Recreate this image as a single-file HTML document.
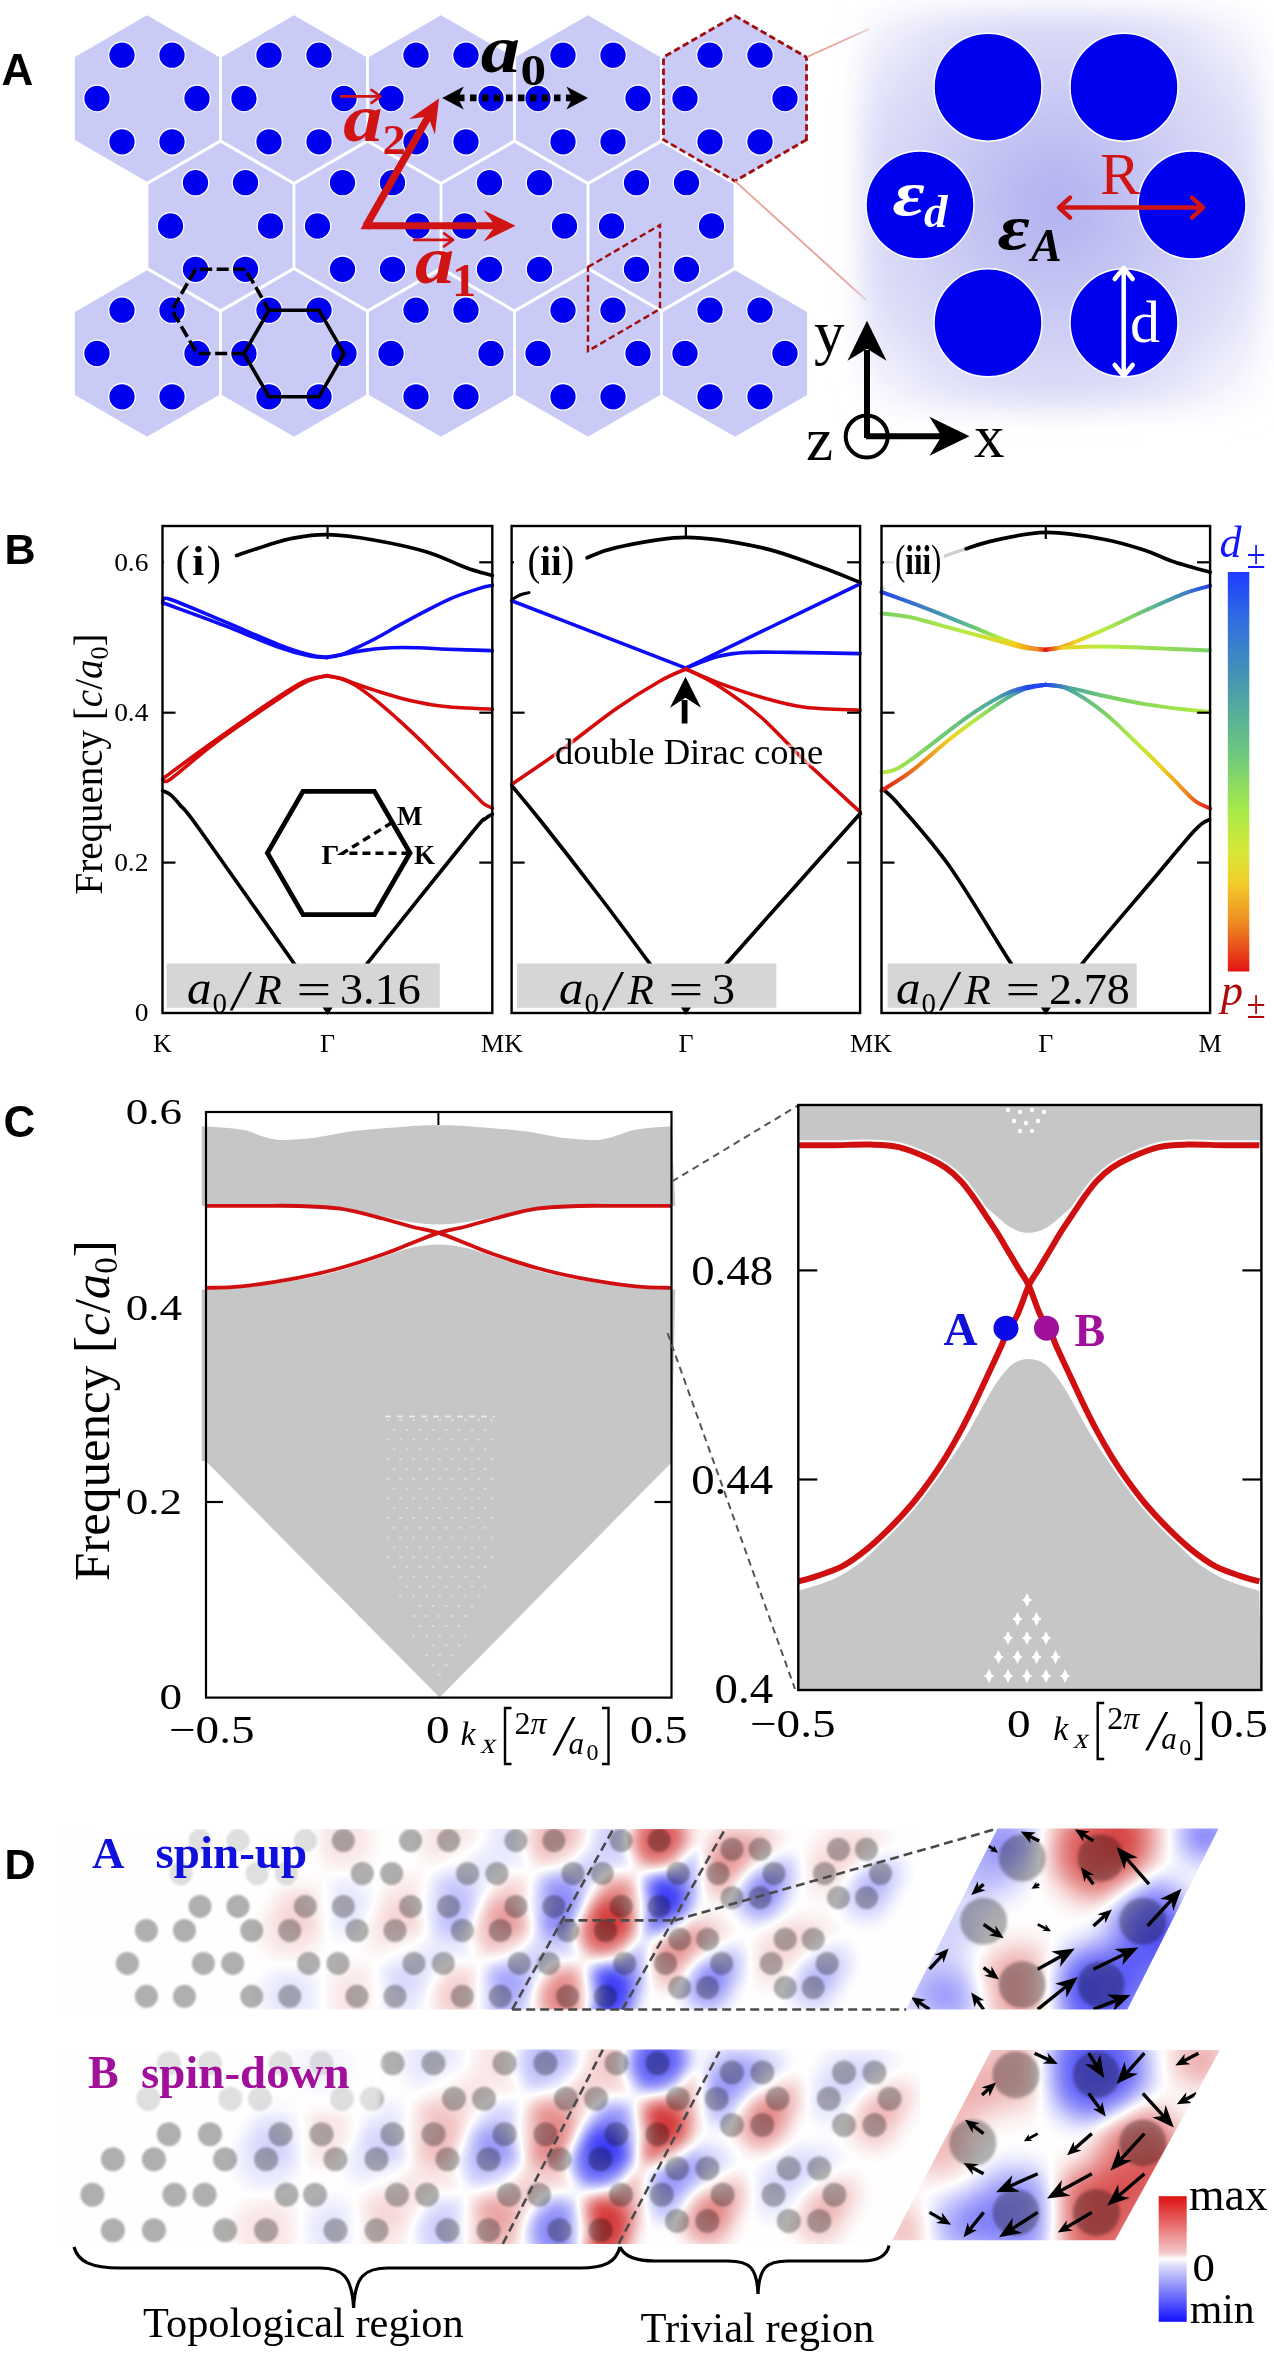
<!DOCTYPE html>
<html><head><meta charset="utf-8"><title>Figure</title>
<style>html,body{margin:0;padding:0;background:#fff;width:1274px;height:2356px;overflow:hidden;}svg{display:block;}</style></head>
<body><svg width="1274" height="2356" viewBox="0 0 1274 2356">
<defs><radialGradient id="ucg" cx="1056" cy="205" r="270" gradientUnits="userSpaceOnUse"><stop offset="0" stop-color="#b0b0f0"/><stop offset="0.4" stop-color="#cacaf5"/><stop offset="0.72" stop-color="#dedef8"/><stop offset="1" stop-color="#fbfbff"/></radialGradient>
<filter id="blur12" x="-20%" y="-20%" width="140%" height="140%"><feGaussianBlur stdDeviation="13"/></filter>
<linearGradient id="u1" gradientUnits="userSpaceOnUse" x1="881.5" y1="0" x2="1045.8" y2="0"><stop offset="0" stop-color="#2244ee"/><stop offset="0.25" stop-color="#3f7fc0"/><stop offset="0.45" stop-color="#4ea8a0"/><stop offset="0.6" stop-color="#78d068"/><stop offset="0.72" stop-color="#b8ec40"/><stop offset="0.82" stop-color="#f0d020"/><stop offset="0.9" stop-color="#ef8a20"/><stop offset="0.95" stop-color="#e01818"/><stop offset="1" stop-color="#e01818"/></linearGradient>
<linearGradient id="u2" gradientUnits="userSpaceOnUse" x1="881.5" y1="0" x2="1045.8" y2="0"><stop offset="0" stop-color="#78d068"/><stop offset="0.5" stop-color="#b8ec40"/><stop offset="0.8" stop-color="#f0d020"/><stop offset="0.95" stop-color="#ef8a20"/><stop offset="1" stop-color="#e01818"/></linearGradient>
<linearGradient id="u3" gradientUnits="userSpaceOnUse" x1="1045.8" y1="0" x2="1210.1" y2="0"><stop offset="0" stop-color="#e01818"/><stop offset="0.08" stop-color="#ef8a20"/><stop offset="0.18" stop-color="#f0d020"/><stop offset="0.35" stop-color="#b8ec40"/><stop offset="0.55" stop-color="#78d068"/><stop offset="0.72" stop-color="#4ea8a0"/><stop offset="0.85" stop-color="#3f7fc0"/><stop offset="1" stop-color="#2244ee"/></linearGradient>
<linearGradient id="u4" gradientUnits="userSpaceOnUse" x1="1045.8" y1="0" x2="1210.1" y2="0"><stop offset="0" stop-color="#e01818"/><stop offset="0.1" stop-color="#f0d020"/><stop offset="0.35" stop-color="#b8ec40"/><stop offset="1" stop-color="#78d068"/></linearGradient>
<linearGradient id="l1" gradientUnits="userSpaceOnUse" x1="881.5" y1="0" x2="1045.8" y2="0"><stop offset="0" stop-color="#e01818"/><stop offset="0.25" stop-color="#ef8a20"/><stop offset="0.42" stop-color="#f0d020"/><stop offset="0.55" stop-color="#b8ec40"/><stop offset="0.68" stop-color="#78d068"/><stop offset="0.8" stop-color="#4ea8a0"/><stop offset="0.9" stop-color="#2244ee"/><stop offset="1" stop-color="#2244ee"/></linearGradient>
<linearGradient id="l2" gradientUnits="userSpaceOnUse" x1="881.5" y1="0" x2="1045.8" y2="0"><stop offset="0" stop-color="#b8ec40"/><stop offset="0.3" stop-color="#78d068"/><stop offset="0.7" stop-color="#4ea8a0"/><stop offset="0.9" stop-color="#2244ee"/><stop offset="1" stop-color="#2244ee"/></linearGradient>
<linearGradient id="l3" gradientUnits="userSpaceOnUse" x1="1045.8" y1="0" x2="1210.1" y2="0"><stop offset="0" stop-color="#2244ee"/><stop offset="0.15" stop-color="#4ea8a0"/><stop offset="0.35" stop-color="#78d068"/><stop offset="0.55" stop-color="#b8ec40"/><stop offset="0.7" stop-color="#f0d020"/><stop offset="0.85" stop-color="#ef8a20"/><stop offset="1" stop-color="#e01818"/></linearGradient>
<linearGradient id="l4" gradientUnits="userSpaceOnUse" x1="1045.8" y1="0" x2="1210.1" y2="0"><stop offset="0" stop-color="#2244ee"/><stop offset="0.15" stop-color="#4ea8a0"/><stop offset="0.4" stop-color="#78d068"/><stop offset="1" stop-color="#b8ec40"/></linearGradient>
<linearGradient id="cbar" x1="0" y1="0" x2="0" y2="1"><stop offset="0" stop-color="#1e3cff"/><stop offset="0.12" stop-color="#2f6ee0"/><stop offset="0.3" stop-color="#4aa0a8"/><stop offset="0.45" stop-color="#6cc880"/><stop offset="0.6" stop-color="#a8ea48"/><stop offset="0.7" stop-color="#d8e838"/><stop offset="0.78" stop-color="#f2cc2a"/><stop offset="0.88" stop-color="#ee8a22"/><stop offset="1" stop-color="#e21414"/></linearGradient>
<filter id="fblur" x="-50%" y="-50%" width="200%" height="200%"><feGaussianBlur stdDeviation="9"/></filter>
<filter id="dblur" x="-30%" y="-30%" width="160%" height="160%"><feGaussianBlur stdDeviation="0.8"/></filter>
<clipPath id="clipA"><rect x="60" y="1829" width="860" height="180.5"/></clipPath>
<clipPath id="clipB"><rect x="60" y="2049.6" width="860" height="194.3"/></clipPath>
<filter id="divmap" color-interpolation-filters="sRGB" filterUnits="userSpaceOnUse" x="40" y="1800" width="1234" height="480"><feGaussianBlur stdDeviation="9"/><feComponentTransfer><feFuncR type="table" tableValues="0.08 1 0.80"/><feFuncG type="table" tableValues="0.08 1 0.07"/><feFuncB type="table" tableValues="0.96 1 0.07"/></feComponentTransfer></filter>
<filter id="fadeblur" x="-10%" y="-30%" width="120%" height="160%"><feGaussianBlur stdDeviation="3"/></filter>
<linearGradient id="fadeR" x1="0" y1="0" x2="1" y2="0"><stop offset="0" stop-color="#fff" stop-opacity="0"/><stop offset="1" stop-color="#fff" stop-opacity="0.9"/></linearGradient>
<linearGradient id="cbD" x1="0" y1="0" x2="0" y2="1"><stop offset="0" stop-color="#dd1111"/><stop offset="0.45" stop-color="#f4c8c8"/><stop offset="0.5" stop-color="#ffffff"/><stop offset="0.56" stop-color="#d8d8fa"/><stop offset="1" stop-color="#1111ff"/></linearGradient>
<clipPath id="clipIA"><polygon points="997.5,1828.6 1218.6,1828.6 1127.4,2009.4 906.3,2009.4"/></clipPath>
<clipPath id="clipIB"><polygon points="991.3,2050 1220,2050 1115,2240.3 892.4,2240.3"/></clipPath>
<filter id="iblur" x="-50%" y="-50%" width="200%" height="200%"><feGaussianBlur stdDeviation="16"/></filter>
<filter id="cblur" x="-30%" y="-30%" width="160%" height="160%"><feGaussianBlur stdDeviation="1.6"/></filter>
<filter id="divmapI" color-interpolation-filters="sRGB" filterUnits="userSpaceOnUse" x="860" y="1800" width="414" height="470"><feGaussianBlur stdDeviation="15"/><feComponentTransfer><feFuncR type="table" tableValues="0.08 1 0.80"/><feFuncG type="table" tableValues="0.08 1 0.07"/><feFuncB type="table" tableValues="0.96 1 0.07"/></feComponentTransfer></filter></defs>
<rect width="1274" height="2356" fill="#fff"/>
<polygon points="219.1,140.1 147,181.7 74.9,140.1 74.9,56.9 147,15.3 219.1,56.9" fill="#cacaf6"/>
<polygon points="366.1,140.1 294,181.7 221.9,140.1 221.9,56.9 294,15.3 366.1,56.9" fill="#cacaf6"/>
<polygon points="513.1,140.1 441,181.7 368.9,140.1 368.9,56.9 441,15.3 513.1,56.9" fill="#cacaf6"/>
<polygon points="660.1,140.1 588,181.7 515.9,140.1 515.9,56.9 588,15.3 660.1,56.9" fill="#cacaf6"/>
<polygon points="807.1,140.1 735,181.7 662.9,140.1 662.9,56.9 735,15.3 807.1,56.9" fill="#cacaf6"/>
<polygon points="292.6,267.6 220.5,309.2 148.4,267.6 148.4,184.4 220.5,142.8 292.6,184.4" fill="#cacaf6"/>
<polygon points="439.6,267.6 367.5,309.2 295.4,267.6 295.4,184.4 367.5,142.8 439.6,184.4" fill="#cacaf6"/>
<polygon points="586.6,267.6 514.5,309.2 442.4,267.6 442.4,184.4 514.5,142.8 586.6,184.4" fill="#cacaf6"/>
<polygon points="733.6,267.6 661.5,309.2 589.4,267.6 589.4,184.4 661.5,142.8 733.6,184.4" fill="#cacaf6"/>
<polygon points="219.1,395.1 147,436.7 74.9,395.1 74.9,311.9 147,270.3 219.1,311.9" fill="#cacaf6"/>
<polygon points="366.1,395.1 294,436.7 221.9,395.1 221.9,311.9 294,270.3 366.1,311.9" fill="#cacaf6"/>
<polygon points="513.1,395.1 441,436.7 368.9,395.1 368.9,311.9 441,270.3 513.1,311.9" fill="#cacaf6"/>
<polygon points="660.1,395.1 588,436.7 515.9,395.1 515.9,311.9 588,270.3 660.1,311.9" fill="#cacaf6"/>
<polygon points="807.1,395.1 735,436.7 662.9,395.1 662.9,311.9 735,270.3 807.1,311.9" fill="#cacaf6"/>
<circle cx="197" cy="98.5" r="13.3" fill="#0000f0" stroke="#fff" stroke-width="1.3"/>
<circle cx="172" cy="141.8" r="13.3" fill="#0000f0" stroke="#fff" stroke-width="1.3"/>
<circle cx="122" cy="141.8" r="13.3" fill="#0000f0" stroke="#fff" stroke-width="1.3"/>
<circle cx="97" cy="98.5" r="13.3" fill="#0000f0" stroke="#fff" stroke-width="1.3"/>
<circle cx="122" cy="55.2" r="13.3" fill="#0000f0" stroke="#fff" stroke-width="1.3"/>
<circle cx="172" cy="55.2" r="13.3" fill="#0000f0" stroke="#fff" stroke-width="1.3"/>
<circle cx="344" cy="98.5" r="13.3" fill="#0000f0" stroke="#fff" stroke-width="1.3"/>
<circle cx="319" cy="141.8" r="13.3" fill="#0000f0" stroke="#fff" stroke-width="1.3"/>
<circle cx="269" cy="141.8" r="13.3" fill="#0000f0" stroke="#fff" stroke-width="1.3"/>
<circle cx="244" cy="98.5" r="13.3" fill="#0000f0" stroke="#fff" stroke-width="1.3"/>
<circle cx="269" cy="55.2" r="13.3" fill="#0000f0" stroke="#fff" stroke-width="1.3"/>
<circle cx="319" cy="55.2" r="13.3" fill="#0000f0" stroke="#fff" stroke-width="1.3"/>
<circle cx="491" cy="98.5" r="13.3" fill="#0000f0" stroke="#fff" stroke-width="1.3"/>
<circle cx="466" cy="141.8" r="13.3" fill="#0000f0" stroke="#fff" stroke-width="1.3"/>
<circle cx="416" cy="141.8" r="13.3" fill="#0000f0" stroke="#fff" stroke-width="1.3"/>
<circle cx="391" cy="98.5" r="13.3" fill="#0000f0" stroke="#fff" stroke-width="1.3"/>
<circle cx="416" cy="55.2" r="13.3" fill="#0000f0" stroke="#fff" stroke-width="1.3"/>
<circle cx="466" cy="55.2" r="13.3" fill="#0000f0" stroke="#fff" stroke-width="1.3"/>
<circle cx="638" cy="98.5" r="13.3" fill="#0000f0" stroke="#fff" stroke-width="1.3"/>
<circle cx="613" cy="141.8" r="13.3" fill="#0000f0" stroke="#fff" stroke-width="1.3"/>
<circle cx="563" cy="141.8" r="13.3" fill="#0000f0" stroke="#fff" stroke-width="1.3"/>
<circle cx="538" cy="98.5" r="13.3" fill="#0000f0" stroke="#fff" stroke-width="1.3"/>
<circle cx="563" cy="55.2" r="13.3" fill="#0000f0" stroke="#fff" stroke-width="1.3"/>
<circle cx="613" cy="55.2" r="13.3" fill="#0000f0" stroke="#fff" stroke-width="1.3"/>
<circle cx="785" cy="98.5" r="13.3" fill="#0000f0" stroke="#fff" stroke-width="1.3"/>
<circle cx="760" cy="141.8" r="13.3" fill="#0000f0" stroke="#fff" stroke-width="1.3"/>
<circle cx="710" cy="141.8" r="13.3" fill="#0000f0" stroke="#fff" stroke-width="1.3"/>
<circle cx="685" cy="98.5" r="13.3" fill="#0000f0" stroke="#fff" stroke-width="1.3"/>
<circle cx="710" cy="55.2" r="13.3" fill="#0000f0" stroke="#fff" stroke-width="1.3"/>
<circle cx="760" cy="55.2" r="13.3" fill="#0000f0" stroke="#fff" stroke-width="1.3"/>
<circle cx="270.5" cy="226" r="13.3" fill="#0000f0" stroke="#fff" stroke-width="1.3"/>
<circle cx="245.5" cy="269.3" r="13.3" fill="#0000f0" stroke="#fff" stroke-width="1.3"/>
<circle cx="195.5" cy="269.3" r="13.3" fill="#0000f0" stroke="#fff" stroke-width="1.3"/>
<circle cx="170.5" cy="226" r="13.3" fill="#0000f0" stroke="#fff" stroke-width="1.3"/>
<circle cx="195.5" cy="182.7" r="13.3" fill="#0000f0" stroke="#fff" stroke-width="1.3"/>
<circle cx="245.5" cy="182.7" r="13.3" fill="#0000f0" stroke="#fff" stroke-width="1.3"/>
<circle cx="417.5" cy="226" r="13.3" fill="#0000f0" stroke="#fff" stroke-width="1.3"/>
<circle cx="392.5" cy="269.3" r="13.3" fill="#0000f0" stroke="#fff" stroke-width="1.3"/>
<circle cx="342.5" cy="269.3" r="13.3" fill="#0000f0" stroke="#fff" stroke-width="1.3"/>
<circle cx="317.5" cy="226" r="13.3" fill="#0000f0" stroke="#fff" stroke-width="1.3"/>
<circle cx="342.5" cy="182.7" r="13.3" fill="#0000f0" stroke="#fff" stroke-width="1.3"/>
<circle cx="392.5" cy="182.7" r="13.3" fill="#0000f0" stroke="#fff" stroke-width="1.3"/>
<circle cx="564.5" cy="226" r="13.3" fill="#0000f0" stroke="#fff" stroke-width="1.3"/>
<circle cx="539.5" cy="269.3" r="13.3" fill="#0000f0" stroke="#fff" stroke-width="1.3"/>
<circle cx="489.5" cy="269.3" r="13.3" fill="#0000f0" stroke="#fff" stroke-width="1.3"/>
<circle cx="464.5" cy="226" r="13.3" fill="#0000f0" stroke="#fff" stroke-width="1.3"/>
<circle cx="489.5" cy="182.7" r="13.3" fill="#0000f0" stroke="#fff" stroke-width="1.3"/>
<circle cx="539.5" cy="182.7" r="13.3" fill="#0000f0" stroke="#fff" stroke-width="1.3"/>
<circle cx="711.5" cy="226" r="13.3" fill="#0000f0" stroke="#fff" stroke-width="1.3"/>
<circle cx="686.5" cy="269.3" r="13.3" fill="#0000f0" stroke="#fff" stroke-width="1.3"/>
<circle cx="636.5" cy="269.3" r="13.3" fill="#0000f0" stroke="#fff" stroke-width="1.3"/>
<circle cx="611.5" cy="226" r="13.3" fill="#0000f0" stroke="#fff" stroke-width="1.3"/>
<circle cx="636.5" cy="182.7" r="13.3" fill="#0000f0" stroke="#fff" stroke-width="1.3"/>
<circle cx="686.5" cy="182.7" r="13.3" fill="#0000f0" stroke="#fff" stroke-width="1.3"/>
<circle cx="197" cy="353.5" r="13.3" fill="#0000f0" stroke="#fff" stroke-width="1.3"/>
<circle cx="172" cy="396.8" r="13.3" fill="#0000f0" stroke="#fff" stroke-width="1.3"/>
<circle cx="122" cy="396.8" r="13.3" fill="#0000f0" stroke="#fff" stroke-width="1.3"/>
<circle cx="97" cy="353.5" r="13.3" fill="#0000f0" stroke="#fff" stroke-width="1.3"/>
<circle cx="122" cy="310.2" r="13.3" fill="#0000f0" stroke="#fff" stroke-width="1.3"/>
<circle cx="172" cy="310.2" r="13.3" fill="#0000f0" stroke="#fff" stroke-width="1.3"/>
<circle cx="344" cy="353.5" r="13.3" fill="#0000f0" stroke="#fff" stroke-width="1.3"/>
<circle cx="319" cy="396.8" r="13.3" fill="#0000f0" stroke="#fff" stroke-width="1.3"/>
<circle cx="269" cy="396.8" r="13.3" fill="#0000f0" stroke="#fff" stroke-width="1.3"/>
<circle cx="244" cy="353.5" r="13.3" fill="#0000f0" stroke="#fff" stroke-width="1.3"/>
<circle cx="269" cy="310.2" r="13.3" fill="#0000f0" stroke="#fff" stroke-width="1.3"/>
<circle cx="319" cy="310.2" r="13.3" fill="#0000f0" stroke="#fff" stroke-width="1.3"/>
<circle cx="491" cy="353.5" r="13.3" fill="#0000f0" stroke="#fff" stroke-width="1.3"/>
<circle cx="466" cy="396.8" r="13.3" fill="#0000f0" stroke="#fff" stroke-width="1.3"/>
<circle cx="416" cy="396.8" r="13.3" fill="#0000f0" stroke="#fff" stroke-width="1.3"/>
<circle cx="391" cy="353.5" r="13.3" fill="#0000f0" stroke="#fff" stroke-width="1.3"/>
<circle cx="416" cy="310.2" r="13.3" fill="#0000f0" stroke="#fff" stroke-width="1.3"/>
<circle cx="466" cy="310.2" r="13.3" fill="#0000f0" stroke="#fff" stroke-width="1.3"/>
<circle cx="638" cy="353.5" r="13.3" fill="#0000f0" stroke="#fff" stroke-width="1.3"/>
<circle cx="613" cy="396.8" r="13.3" fill="#0000f0" stroke="#fff" stroke-width="1.3"/>
<circle cx="563" cy="396.8" r="13.3" fill="#0000f0" stroke="#fff" stroke-width="1.3"/>
<circle cx="538" cy="353.5" r="13.3" fill="#0000f0" stroke="#fff" stroke-width="1.3"/>
<circle cx="563" cy="310.2" r="13.3" fill="#0000f0" stroke="#fff" stroke-width="1.3"/>
<circle cx="613" cy="310.2" r="13.3" fill="#0000f0" stroke="#fff" stroke-width="1.3"/>
<circle cx="785" cy="353.5" r="13.3" fill="#0000f0" stroke="#fff" stroke-width="1.3"/>
<circle cx="760" cy="396.8" r="13.3" fill="#0000f0" stroke="#fff" stroke-width="1.3"/>
<circle cx="710" cy="396.8" r="13.3" fill="#0000f0" stroke="#fff" stroke-width="1.3"/>
<circle cx="685" cy="353.5" r="13.3" fill="#0000f0" stroke="#fff" stroke-width="1.3"/>
<circle cx="710" cy="310.2" r="13.3" fill="#0000f0" stroke="#fff" stroke-width="1.3"/>
<circle cx="760" cy="310.2" r="13.3" fill="#0000f0" stroke="#fff" stroke-width="1.3"/>
<polygon points="806.5,139.8 735,181.1 663.5,139.8 663.5,57.2 735,15.9 806.5,57.2" fill="none" stroke="#a00c0c" stroke-width="2.8" stroke-dasharray="6.5,3.5"/>
<polygon points="588,267 660,225 660,309 588,351" fill="none" stroke="#a00c0c" stroke-width="2.4" stroke-dasharray="6.5,3.5"/>
<line x1="807" y1="57" x2="869" y2="29" stroke="#e8a098" stroke-width="1.8"/>
<line x1="735" y1="181" x2="866" y2="300" stroke="#e8a098" stroke-width="1.8"/>
<polygon points="344,353.5 319,396.8 269,396.8 244,353.5 269,310.2 319,310.2" fill="none" stroke="#000" stroke-width="3.6" stroke-linejoin="miter"/>
<polyline points="269,310.2 245.5,269.3 195.5,269.3 172,310.2 197,353.5 244,353.5" fill="none" stroke="#000" stroke-width="3.6" stroke-dasharray="12,4.5" stroke-dashoffset="2"/>
<polyline points="368,225.8 506,225.8" stroke="#d01414" stroke-width="7" fill="none"/>
<line x1="366" y1="226" x2="431" y2="112" stroke="#d01414" stroke-width="7.5"/>
<polygon points="360.5,229.3 370,229.3 370,222.3 364.5,222.3" fill="#d01414"/>
<polygon points="515.5,225.8 483.5,241.4 495.5,225.8 483.5,210.2" fill="#d01414"/>
<polygon points="439,98.5 434.9,134.5 428.2,116.5 409.2,119.1" fill="#d01414"/>
<line x1="340" y1="96.4" x2="379" y2="96.4" stroke="#d01414" stroke-width="2.8"/>
<polyline points="371.5,102.9 380.5,96.4 371.5,89.9" fill="none" stroke="#d01414" stroke-width="2.6" stroke-linecap="round" stroke-linejoin="round"/>
<line x1="413" y1="239.9" x2="451.5" y2="239.9" stroke="#d01414" stroke-width="2.8"/>
<polyline points="444,246.4 453,239.9 444,233.4" fill="none" stroke="#d01414" stroke-width="2.6" stroke-linecap="round" stroke-linejoin="round"/>
<text transform="translate(343.3,141.3) scale(1.17,1)" font-family="Liberation Serif, serif" font-style="italic" font-weight="bold" font-size="67" fill="#d01414">a</text>
<text transform="translate(382.5,153.8) scale(1.08,1)" font-family="Liberation Serif, serif" font-weight="bold" font-size="43" fill="#d01414">2</text>
<text transform="translate(415,283.3) scale(1.17,1)" font-family="Liberation Serif, serif" font-style="italic" font-weight="bold" font-size="67" fill="#d01414">a</text>
<text transform="translate(452,295.7) scale(1.05,1)" font-family="Liberation Serif, serif" font-weight="bold" font-size="46" fill="#d01414">1</text>
<text transform="translate(480.8,72.4) scale(1.17,1)" font-family="Liberation Serif, serif" font-style="italic" font-weight="bold" font-size="67" fill="#000">a</text>
<text transform="translate(520.5,84.7) scale(1.15,1)" font-family="Liberation Serif, serif" font-weight="bold" font-size="44.5" fill="#000">0</text>
<line x1="458" y1="97.9" x2="573" y2="97.9" stroke="#000" stroke-width="6.7" stroke-dasharray="6.5,5.5"/>
<polygon points="442.2,97.9 463.8,86.4 457.8,97.9 463.8,109.4" fill="#000"/>
<polygon points="588,97.9 566.4,109.4 572.4,97.9 566.4,86.4" fill="#000"/>
<text x="1.5" y="84.6" font-family="Liberation Sans, sans-serif" font-weight="bold" font-size="44" fill="#000">A</text>
<rect x="860" y="10" width="404" height="400" rx="30" fill="url(#ucg)" filter="url(#blur12)"/>
<circle cx="1192" cy="205" r="54" fill="#0000f0" stroke="#fff" stroke-width="1.5"/>
<circle cx="1124" cy="322.8" r="54" fill="#0000f0" stroke="#fff" stroke-width="1.5"/>
<circle cx="988" cy="322.8" r="54" fill="#0000f0" stroke="#fff" stroke-width="1.5"/>
<circle cx="920" cy="205" r="54" fill="#0000f0" stroke="#fff" stroke-width="1.5"/>
<circle cx="988" cy="87.2" r="54" fill="#0000f0" stroke="#fff" stroke-width="1.5"/>
<circle cx="1124" cy="87.2" r="54" fill="#0000f0" stroke="#fff" stroke-width="1.5"/>
<line x1="1062" y1="207.6" x2="1200" y2="207.6" stroke="#d01414" stroke-width="4.5"/>
<polyline points="1070,197.6 1059,207.6 1070,217.6" fill="none" stroke="#d01414" stroke-width="4.5" stroke-linecap="round" stroke-linejoin="round"/>
<polyline points="1192,217.6 1203,207.6 1192,197.6" fill="none" stroke="#d01414" stroke-width="4.5" stroke-linecap="round" stroke-linejoin="round"/>
<text x="1100" y="193.5" font-family="Liberation Serif, serif" font-size="60" fill="#d01414">R</text>
<line x1="1123.7" y1="270" x2="1123.7" y2="374" stroke="#fff" stroke-width="4.5"/>
<polyline points="1132.7,279 1123.7,268 1114.7,279" fill="none" stroke="#fff" stroke-width="4.5" stroke-linecap="round" stroke-linejoin="round"/>
<polyline points="1114.7,365 1123.7,376 1132.7,365" fill="none" stroke="#fff" stroke-width="4.5" stroke-linecap="round" stroke-linejoin="round"/>
<text x="1130" y="342" font-family="Liberation Serif, serif" font-size="60" fill="#fff">d</text>
<text transform="translate(892.5,214.5) scale(1.25,1)" font-family="Liberation Serif, serif" font-style="italic" font-weight="bold" font-size="63" fill="#fff">ε</text>
<text x="924" y="227.4" font-family="Liberation Serif, serif" font-style="italic" font-weight="bold" font-size="47" fill="#fff">d</text>
<text transform="translate(997.5,249) scale(1.25,1)" font-family="Liberation Serif, serif" font-style="italic" font-weight="bold" font-size="63" fill="#000">ε</text>
<text x="1031" y="261" font-family="Liberation Serif, serif" font-style="italic" font-weight="bold" font-size="46" fill="#000">A</text>
<line x1="867" y1="438" x2="867" y2="350" stroke="#000" stroke-width="6"/>
<polygon points="867,320.7 886.5,360.7 867,348.7 847.5,360.7" fill="#000"/>
<line x1="866" y1="436.2" x2="945" y2="436.2" stroke="#000" stroke-width="6"/>
<polygon points="969.5,436.2 929.5,455.7 941.5,436.2 929.5,416.7" fill="#000"/>
<circle cx="866.7" cy="436.6" r="21" fill="none" stroke="#000" stroke-width="4"/>
<text x="814" y="353" font-family="Liberation Serif, serif" font-size="61" fill="#000">y</text>
<text x="974" y="456.5" font-family="Liberation Serif, serif" font-size="61" fill="#000">x</text>
<text x="806" y="460" font-family="Liberation Serif, serif" font-size="61" fill="#000">z</text>
<path d="M162.7,790.9 C164,791.6 167.8,792.5 170.7,794.9 C173.6,797.2 175.1,799.1 180,805 C184.9,810.9 181,803.6 200,830 C219,856.4 273.9,935 293.9,963.3 C313.9,991.6 315.6,993.9 320,1000" fill="none" stroke="#000" stroke-width="3.7" stroke-linecap="round" stroke-linejoin="round" />
<path d="M492.3,814.3 C491.1,815.1 488.7,815.5 485,819 C481.3,822.5 489.6,811 470,835 C450.4,859 389.8,935 367.3,963.3 C344.8,991.6 340.4,998 335,1005" fill="none" stroke="#000" stroke-width="3.7" stroke-linecap="round" stroke-linejoin="round" />
<rect x="166.7" y="963.5" width="273.1" height="44.3" fill="#d6d6d6"/>
<path d="M236.6,555.5 C241.6,553.8 257.3,548.3 266.8,545.4 C276.3,542.5 283.3,539.9 293.4,538.1 C303.5,536.3 314.2,534.4 327.6,534.7 C341,535 356.9,537.1 373.5,540 C390.1,542.9 411.3,547.3 426.9,552 C442.5,556.7 456,564.1 466.9,568 C477.8,571.9 488.1,574.2 492.3,575.5" fill="none" stroke="#000" stroke-width="3.7" stroke-linecap="round" stroke-linejoin="round" />
<path d="M162.7,601 C164,600.8 160.5,596.1 170.7,599.5 C180.9,602.9 206.2,614 224,621.4 C241.8,628.8 263.1,638.5 277.4,644.1 C291.6,649.7 301.1,652.6 309.5,654.8 C317.9,657 324.6,657 327.6,657.4" fill="none" stroke="#0c0cfa" stroke-width="3.6" stroke-linecap="round" stroke-linejoin="round" />
<path d="M162.7,602.7 C172.9,606.5 204.9,618 224,625.4 C243.1,632.8 263.1,641.7 277.4,646.8 C291.6,651.9 301.1,654.2 309.5,656 C317.9,657.8 324.6,657.2 327.6,657.4" fill="none" stroke="#0c0cfa" stroke-width="3.6" stroke-linecap="round" stroke-linejoin="round" />
<path d="M327.6,657.4 C329.9,657 336.6,656.3 341.2,654.8 C345.8,653.3 349.4,651.3 355.3,648.5 C361.2,645.7 369,642 376.5,638 C384,634 391.8,629.3 400.2,624.7 C408.6,620.1 418,615 426.9,610.4 C435.8,605.8 444.7,601.1 453.6,597.4 C462.5,593.7 473.9,590.1 480.3,588.1 C486.8,586.1 490.3,585.9 492.3,585.4" fill="none" stroke="#0c0cfa" stroke-width="3.6" stroke-linecap="round" stroke-linejoin="round" />
<path d="M327.6,657 C329.9,656.6 335.4,655.9 341.2,654.8 C347,653.7 354.2,651.8 362.4,650.6 C370.6,649.4 381.2,648.3 390.6,647.8 C400,647.3 409.5,647.6 418.9,647.8 C428.3,648 435,648.7 447.2,649.2 C459.4,649.7 484.8,650.4 492.3,650.6" fill="none" stroke="#0c0cfa" stroke-width="3.6" stroke-linecap="round" stroke-linejoin="round" />
<path d="M162.7,778.9 C164,778.9 162.2,784.7 170.7,778.9 C179.1,773.1 197.4,756.2 213.4,744.2 C229.4,732.2 251.7,717 266.8,706.8 C281.9,696.6 294,688 304.1,682.8 C314.2,677.6 323.7,676.8 327.6,675.6" fill="none" stroke="#d60a0a" stroke-width="3.6" stroke-linecap="round" stroke-linejoin="round" />
<path d="M165,777 C173.1,771.1 196.4,753.9 213.4,741.8 C230.4,729.7 251.7,714.6 266.8,704.6 C281.9,694.6 294,686.3 304.1,681.5 C314.2,676.7 323.7,676.6 327.6,675.6" fill="none" stroke="#d60a0a" stroke-width="3.6" stroke-linecap="round" stroke-linejoin="round" />
<path d="M327.8,676 C330,676.5 336.6,677.4 341.2,678.9 C345.8,680.4 349.4,681.6 355.3,685.2 C361.2,688.9 369.4,695.1 376.5,700.8 C383.6,706.4 390.6,712.8 397.7,719.1 C404.8,725.5 411.8,732.1 418.9,738.9 C426,745.7 433,753 440.1,760.1 C447.2,767.2 455.4,775.4 461.3,781.3 C467.2,787.2 471.6,791.6 475.4,795.4 C479.2,799.2 481.1,801.8 483.9,803.9 C486.7,806 491,807.4 492.4,808.1" fill="none" stroke="#d60a0a" stroke-width="3.6" stroke-linecap="round" stroke-linejoin="round" />
<path d="M327.8,676 C330,676.4 336.6,677.2 341.2,678.5 C345.8,679.8 349.4,681.7 355.3,683.8 C361.2,685.9 368.2,688.3 376.5,690.9 C384.8,693.5 395.4,696.9 404.8,699.3 C414.2,701.6 423.6,703.6 433,705 C442.4,706.4 451.4,707.1 461.3,707.8 C471.2,708.5 487.2,709 492.4,709.2" fill="none" stroke="#d60a0a" stroke-width="3.6" stroke-linecap="round" stroke-linejoin="round" />
<polygon points="410,853 374.4,914.7 303.1,914.7 267.4,853 303,791.3 374.4,791.3" fill="none" stroke="#000" stroke-width="4.8" stroke-linejoin="miter"/>
<polyline points="392,822.5 342.6,853.2 409,853.2" fill="none" stroke="#000" stroke-width="3.4" stroke-dasharray="8,5"/>
<text x="321.5" y="864" font-family="Liberation Serif, serif" font-weight="bold" font-size="28" fill="#000">Γ</text>
<text x="397" y="825" font-family="Liberation Serif, serif" font-weight="bold" font-size="27" fill="#000">M</text>
<text x="414" y="863.5" font-family="Liberation Serif, serif" font-weight="bold" font-size="27" fill="#000">K</text>
<rect x="162.5" y="526.0" width="329.8" height="487.0" fill="none" stroke="#000" stroke-width="2.4"/>
<line x1="162.5" y1="562.3" x2="175.5" y2="562.3" stroke="#000" stroke-width="2.2"/>
<line x1="479.3" y1="562.3" x2="492.3" y2="562.3" stroke="#000" stroke-width="2.2"/>
<line x1="162.5" y1="712.7" x2="175.5" y2="712.7" stroke="#000" stroke-width="2.2"/>
<line x1="479.3" y1="712.7" x2="492.3" y2="712.7" stroke="#000" stroke-width="2.2"/>
<line x1="162.5" y1="862.6" x2="175.5" y2="862.6" stroke="#000" stroke-width="2.2"/>
<line x1="479.3" y1="862.6" x2="492.3" y2="862.6" stroke="#000" stroke-width="2.2"/>
<line x1="327.6" y1="526.0" x2="327.6" y2="539.0" stroke="#000" stroke-width="2.2"/>
<polygon points="322.6,1007.5 332.6,1007.5 327.6,1015.0" fill="#000"/>
<path d="M512,786 C516.7,791.7 525.3,801.5 540,820 C554.7,838.5 581.9,873.3 600,897 C618.1,920.7 635.5,944.3 648.8,962.3 C662.1,980.3 674.8,997.9 680,1005" fill="none" stroke="#000" stroke-width="3.7" stroke-linecap="round" stroke-linejoin="round" />
<path d="M860.3,813.4 C850.2,824.7 822.1,856.2 800,881 C777.9,905.8 745.8,941.6 727.8,962.3 C709.8,983 698,997.9 692,1005" fill="none" stroke="#000" stroke-width="3.7" stroke-linecap="round" stroke-linejoin="round" />
<rect x="517" y="963.5" width="259.4" height="44.3" fill="#d6d6d6"/>
<path d="M587.1,557.8 C592,556.1 599.7,551 616.2,547.6 C632.7,544.2 661.7,537.4 685.9,537.4 C710.1,537.4 739.1,542.8 761.4,547.6 C783.7,552.5 803,560.7 819.5,566.5 C836,572.3 853.3,579.8 860.1,582.4" fill="none" stroke="#000" stroke-width="3.7" stroke-linecap="round" stroke-linejoin="round" />
<path d="M511.6,599.9 C513,599.1 517.1,596.2 520,595 C522.9,593.8 527.5,593 529,592.6" fill="none" stroke="#000" stroke-width="3" stroke-linecap="round" stroke-linejoin="round" />
<path d="M511.6,600.7 C526.1,606.3 569.7,623.2 598.7,634.4 C627.8,645.6 671.4,662.5 685.9,668.1" fill="none" stroke="#0c0cfa" stroke-width="3.6" stroke-linecap="round" stroke-linejoin="round" />
<path d="M685.9,668.1 C700.4,661.1 744,640 773,626 C802,612 845.6,590.9 860.1,583.9" fill="none" stroke="#0c0cfa" stroke-width="3.6" stroke-linecap="round" stroke-linejoin="round" />
<path d="M685.9,668.1 C691.2,666.2 707.6,659.1 717.8,656.5 C728,653.9 734.8,653.1 746.9,652.4 C759,651.7 771.5,652.2 790.4,652.4 C809.3,652.6 848.5,653.4 860.1,653.6" fill="none" stroke="#0c0cfa" stroke-width="3.6" stroke-linecap="round" stroke-linejoin="round" />
<path d="M511.6,784.3 C519.4,779 540.7,765 558.1,752.4 C575.5,739.8 599.3,720.7 616.2,708.8 C633.1,696.9 648.1,687.8 659.7,681.2 C671.3,674.6 681.5,671 685.9,669" fill="none" stroke="#d60a0a" stroke-width="3.6" stroke-linecap="round" stroke-linejoin="round" />
<path d="M685.9,669 C691.2,671.8 705.2,677.5 717.8,685.6 C730.4,693.7 746.9,704.9 761.4,717.5 C775.9,730.1 788.5,745.3 805,761 C821.5,776.7 850.9,803.4 860.1,811.9" fill="none" stroke="#d60a0a" stroke-width="3.6" stroke-linecap="round" stroke-linejoin="round" />
<path d="M685.9,669 C691.2,671.3 705.2,677.9 717.8,682.6 C730.4,687.3 746.9,693.1 761.4,697.2 C775.9,701.3 788.5,705.1 805,707.3 C821.5,709.5 850.9,709.7 860.1,710.2" fill="none" stroke="#d60a0a" stroke-width="3.6" stroke-linecap="round" stroke-linejoin="round" />
<rect x="511.6" y="526.0" width="348.5" height="487.0" fill="none" stroke="#000" stroke-width="2.4"/>
<line x1="511.6" y1="562.3" x2="524.6" y2="562.3" stroke="#000" stroke-width="2.2"/>
<line x1="847.1" y1="562.3" x2="860.1" y2="562.3" stroke="#000" stroke-width="2.2"/>
<line x1="511.6" y1="712.7" x2="524.6" y2="712.7" stroke="#000" stroke-width="2.2"/>
<line x1="847.1" y1="712.7" x2="860.1" y2="712.7" stroke="#000" stroke-width="2.2"/>
<line x1="511.6" y1="862.6" x2="524.6" y2="862.6" stroke="#000" stroke-width="2.2"/>
<line x1="847.1" y1="862.6" x2="860.1" y2="862.6" stroke="#000" stroke-width="2.2"/>
<line x1="685.9" y1="526.0" x2="685.9" y2="539.0" stroke="#000" stroke-width="2.2"/>
<polygon points="680.9,1007.5 690.9,1007.5 685.9,1015.0" fill="#000"/>
<line x1="684.6" y1="723.5" x2="684.6" y2="700" stroke="#000" stroke-width="5.8"/>
<polygon points="685.5,676.8 701,707.8 685.5,697.8 670,707.8" fill="#000"/>
<text x="555" y="764" font-family="Liberation Serif, serif" font-size="36.6" fill="#000" stroke="#fff" stroke-opacity="0.55" stroke-width="5" paint-order="stroke">double Dirac cone</text>
<path d="M882.7,789 C885.6,791.8 888.8,793 900,806 C911.2,819 931.6,841 950,867 C968.4,893 995.3,939.3 1010.3,962.3 C1025.3,985.3 1035,997.9 1040,1005" fill="none" stroke="#000" stroke-width="3.7" stroke-linecap="round" stroke-linejoin="round" />
<path d="M1209.6,819.5 C1207.2,821.2 1204.9,819.4 1195,830 C1185.1,840.6 1168.6,861 1150,883 C1131.4,905 1099.5,942 1083.2,962.3 C1066.9,982.6 1057.2,997.9 1052,1005" fill="none" stroke="#000" stroke-width="3.7" stroke-linecap="round" stroke-linejoin="round" />
<rect x="887.6" y="963.5" width="249.10000000000002" height="44.3" fill="#d6d6d6"/>
<path d="M881.5,588.7 C886.5,586.2 901.7,578.6 911.2,573.6 C920.7,568.6 929.5,562.6 938.7,558.5 C947.9,554.4 961.6,550.4 966.2,548.8" fill="none" stroke="#d0d0d0" stroke-width="3.4" stroke-linecap="round" stroke-linejoin="round" />
<path d="M966.2,548.8 C970.8,547.4 980.3,543.3 993.6,540.6 C1006.9,537.9 1027.5,532.6 1045.8,532.4 C1064.1,532.2 1087,536.2 1103.5,539.2 C1120,542.2 1133.2,546.5 1144.7,550.2 C1156.2,553.9 1161.3,557.5 1172.2,561.2 C1183.1,564.9 1203.8,570.4 1210.1,572.2" fill="none" stroke="#000" stroke-width="3.7" stroke-linecap="round" stroke-linejoin="round" />
<path d="M881.5,592 C888.7,594.6 910.8,602.5 924.9,607.9 C939,613.3 952.5,618.9 966.2,624.4 C980,629.9 996.9,637 1007.4,640.9 C1017.9,644.8 1022.9,646.2 1029.3,647.7 C1035.7,649.2 1043,649.4 1045.8,649.7" fill="none" stroke="url(#u1)" stroke-width="4" stroke-linecap="round" stroke-linejoin="round" />
<path d="M881.5,613.4 C886.5,614.1 899.4,615 911.2,617.5 C923,620 938.7,624.8 952.4,628.5 C966.1,632.2 981.7,636.3 993.6,639.5 C1005.5,642.7 1015.1,646 1023.8,647.7 C1032.5,649.4 1042.1,649.4 1045.8,649.7" fill="none" stroke="url(#u2)" stroke-width="4" stroke-linecap="round" stroke-linejoin="round" />
<path d="M1045.8,649.7 C1048.5,649.2 1052.7,650.2 1062.3,646.9 C1071.9,643.6 1089.8,635.9 1103.5,629.9 C1117.2,623.9 1131,616.9 1144.7,610.7 C1158.4,604.5 1175,596.9 1185.9,592.8 C1196.8,588.7 1206.1,587 1210.1,585.9" fill="none" stroke="url(#u3)" stroke-width="4" stroke-linecap="round" stroke-linejoin="round" />
<path d="M1045.8,649.7 C1048.5,649.4 1052.7,648.2 1062.3,647.7 C1071.9,647.2 1089.8,646.4 1103.5,646.4 C1117.2,646.4 1126.9,647 1144.7,647.7 C1162.5,648.4 1199.2,650 1210.1,650.5" fill="none" stroke="url(#u4)" stroke-width="4" stroke-linecap="round" stroke-linejoin="round" />
<path d="M881.5,790.6 C886.5,787.4 899.4,780.3 911.2,771.4 C923,762.5 938.7,747.8 952.4,737 C966.1,726.2 982.1,714.6 993.6,706.8 C1005.1,699 1012.4,694 1021.1,690.3 C1029.8,686.6 1041.7,685.7 1045.8,684.8" fill="none" stroke="url(#l1)" stroke-width="4" stroke-linecap="round" stroke-linejoin="round" />
<path d="M881.5,772.7 C884.2,772 890.3,772.5 897.5,768.6 C904.7,764.7 913.4,757.9 924.9,749.4 C936.4,740.9 953.4,726.7 966.2,717.8 C979,708.9 992.3,700.8 1001.9,695.8 C1011.5,690.8 1016.5,689.4 1023.8,687.6 C1031.1,685.8 1042.1,685.3 1045.8,684.8" fill="none" stroke="url(#l2)" stroke-width="4" stroke-linecap="round" stroke-linejoin="round" />
<path d="M1045.8,684.8 C1049.5,685.5 1058.2,684.4 1067.8,689 C1077.4,693.6 1090.7,702 1103.5,712.3 C1116.3,722.6 1133.2,739.8 1144.7,750.8 C1156.2,761.8 1164,770 1172.2,778.2 C1180.5,786.4 1187.9,795.2 1194.2,800.2 C1200.5,805.2 1207.4,807.1 1210.1,808.5" fill="none" stroke="url(#l3)" stroke-width="4" stroke-linecap="round" stroke-linejoin="round" />
<path d="M1045.8,684.8 C1049.5,685.3 1058.2,685.8 1067.8,687.6 C1077.4,689.4 1090.7,693 1103.5,695.8 C1116.3,698.5 1131,701.8 1144.7,704.1 C1158.4,706.4 1175,708.3 1185.9,709.6 C1196.8,710.9 1206.1,711.4 1210.1,711.8" fill="none" stroke="url(#l4)" stroke-width="4" stroke-linecap="round" stroke-linejoin="round" />
<rect x="881.5" y="526.0" width="328.5999999999999" height="487.0" fill="none" stroke="#000" stroke-width="2.4"/>
<line x1="881.5" y1="562.3" x2="894.5" y2="562.3" stroke="#000" stroke-width="2.2"/>
<line x1="1197.1" y1="562.3" x2="1210.1" y2="562.3" stroke="#000" stroke-width="2.2"/>
<line x1="881.5" y1="712.7" x2="894.5" y2="712.7" stroke="#000" stroke-width="2.2"/>
<line x1="1197.1" y1="712.7" x2="1210.1" y2="712.7" stroke="#000" stroke-width="2.2"/>
<line x1="881.5" y1="862.6" x2="894.5" y2="862.6" stroke="#000" stroke-width="2.2"/>
<line x1="1197.1" y1="862.6" x2="1210.1" y2="862.6" stroke="#000" stroke-width="2.2"/>
<line x1="1045.8" y1="526.0" x2="1045.8" y2="539.0" stroke="#000" stroke-width="2.2"/>
<polygon points="1040.8,1007.5 1050.8,1007.5 1045.8,1015.0" fill="#000"/>
<rect x="1227.8" y="572" width="21.5" height="399.5" fill="url(#cbar)"/>
<text x="1219.5" y="556.5" font-family="Liberation Serif, serif" font-style="italic" font-size="44" fill="#1414ff">d</text>
<text transform="translate(1246.5,567.7) scale(0.92,1.08)" font-family="Liberation Serif, serif" font-size="38" fill="#1414ff">±</text>
<text x="1221" y="1005" font-family="Liberation Serif, serif" font-style="italic" font-size="44" fill="#b00808">p</text>
<text transform="translate(1246.5,1017.5) scale(0.92,1.08)" font-family="Liberation Serif, serif" font-size="38" fill="#b00808">±</text>
<rect x="164" y="543" width="66" height="46" fill="#fff"/>
<rect x="514" y="543" width="68" height="46" fill="#fff"/>
<rect x="884" y="544" width="60" height="44" fill="#fff" opacity="0.88"/>
<text x="175.5" y="574.5" font-family="Liberation Serif, serif" font-size="43" letter-spacing="2.5" fill="#000">(<tspan font-weight="bold">i</tspan>)</text>
<text transform="translate(527.5,574.5) scale(0.89,1)" font-family="Liberation Serif, serif" font-size="43" fill="#000">(<tspan font-weight="bold">ii</tspan>)</text>
<text transform="translate(895,574.2) scale(0.72,1)" font-family="Liberation Serif, serif" font-size="43" fill="#000">(<tspan font-weight="bold">iii</tspan>)</text>
<text x="187" y="1004" font-family="Liberation Serif, serif" font-style="italic" font-size="49" fill="#000">a</text><text x="212.5" y="1012.5" font-family="Liberation Serif, serif" font-size="29" fill="#000">0</text><text x="232.3" y="1009.5" font-family="Liberation Serif, serif" font-style="italic" font-size="56" fill="#000">/</text><text x="255.5" y="1004" font-family="Liberation Serif, serif" font-style="italic" font-size="43" fill="#000">R</text><text transform="translate(296.5,1004) scale(1.4,1)" font-family="Liberation Serif, serif" font-size="44" fill="#000">=</text><text transform="translate(340,1004) scale(1.05,1)" font-family="Liberation Serif, serif" font-size="44" fill="#000">3.16</text>
<text x="559" y="1004" font-family="Liberation Serif, serif" font-style="italic" font-size="49" fill="#000">a</text><text x="584.5" y="1012.5" font-family="Liberation Serif, serif" font-size="29" fill="#000">0</text><text x="604.3" y="1009.5" font-family="Liberation Serif, serif" font-style="italic" font-size="56" fill="#000">/</text><text x="627.5" y="1004" font-family="Liberation Serif, serif" font-style="italic" font-size="43" fill="#000">R</text><text transform="translate(668.5,1004) scale(1.4,1)" font-family="Liberation Serif, serif" font-size="44" fill="#000">=</text><text transform="translate(712,1004) scale(1.05,1)" font-family="Liberation Serif, serif" font-size="44" fill="#000">3</text>
<text x="896.1" y="1004" font-family="Liberation Serif, serif" font-style="italic" font-size="49" fill="#000">a</text><text x="921.6" y="1012.5" font-family="Liberation Serif, serif" font-size="29" fill="#000">0</text><text x="941.4" y="1009.5" font-family="Liberation Serif, serif" font-style="italic" font-size="56" fill="#000">/</text><text x="964.6" y="1004" font-family="Liberation Serif, serif" font-style="italic" font-size="43" fill="#000">R</text><text transform="translate(1005.6,1004) scale(1.4,1)" font-family="Liberation Serif, serif" font-size="44" fill="#000">=</text><text transform="translate(1049.1,1004) scale(1.05,1)" font-family="Liberation Serif, serif" font-size="44" fill="#000">2.78</text>
<text transform="translate(148.5,570.6) scale(1.1,1)" text-anchor="end" font-family="Liberation Serif, serif" font-size="25" fill="#000">0.6</text>
<text transform="translate(148.5,721) scale(1.1,1)" text-anchor="end" font-family="Liberation Serif, serif" font-size="25" fill="#000">0.4</text>
<text transform="translate(148.5,870.9) scale(1.1,1)" text-anchor="end" font-family="Liberation Serif, serif" font-size="25" fill="#000">0.2</text>
<text transform="translate(148.5,1021.3) scale(1.1,1)" text-anchor="end" font-family="Liberation Serif, serif" font-size="25" fill="#000">0</text>
<text x="162.5" y="1051.5" text-anchor="middle" font-family="Liberation Serif, serif" font-size="26" fill="#000">K</text>
<text x="327.6" y="1051.5" text-anchor="middle" font-family="Liberation Serif, serif" font-size="26" fill="#000">Γ</text>
<text x="502" y="1051.5" text-anchor="middle" font-family="Liberation Serif, serif" font-size="26" fill="#000">MK</text>
<text x="685.9" y="1051.5" text-anchor="middle" font-family="Liberation Serif, serif" font-size="26" fill="#000">Γ</text>
<text x="871" y="1051.5" text-anchor="middle" font-family="Liberation Serif, serif" font-size="26" fill="#000">MK</text>
<text x="1045.8" y="1051.5" text-anchor="middle" font-family="Liberation Serif, serif" font-size="26" fill="#000">Γ</text>
<text x="1210" y="1051.5" text-anchor="middle" font-family="Liberation Serif, serif" font-size="26" fill="#000">M</text>
<text transform="translate(101.5,894.5) rotate(-90)" font-family="Liberation Serif, serif" font-size="39" fill="#000">Frequency [<tspan font-style="italic">c</tspan>/<tspan font-style="italic">a</tspan><tspan font-size="26" dy="6">0</tspan><tspan dy="-6">]</tspan></text>
<text x="4.5" y="563.7" font-family="Liberation Sans, sans-serif" font-weight="bold" font-size="43" fill="#000">B</text>
<path d="M201.7,1126.2 C208.3,1126.8 229.1,1127.4 241.3,1129.6 C253.6,1131.8 263.4,1138 275.2,1139.4 C287,1140.8 298.8,1139.4 312,1138 C325.2,1136.6 337.8,1133 354.3,1131 C370.8,1129 396.7,1127.2 410.8,1126.2 C424.9,1125.2 429.6,1125.3 439,1125.3 C448.4,1125.3 453,1125.2 467,1126.2 C481,1127.2 506.7,1129 523,1131 C539.3,1133 551.8,1136.6 565,1138 C578.2,1139.4 590.2,1140.8 602,1139.4 C613.8,1138 624.4,1131.8 636,1129.6 C647.6,1127.4 665.6,1126.8 671.5,1126.2 L675.3,1206 C659.2,1206 602,1205.6 579,1206 C556,1206.4 551.1,1206.8 537,1208.5 C522.9,1210.2 506.1,1214.2 494.4,1216.5 C482.7,1218.8 476.3,1220.7 467,1222 C457.7,1223.3 448,1224.5 438.5,1224.5 C429,1224.5 419.3,1223.3 410,1222 C400.7,1220.7 394.3,1218.8 382.6,1216.5 C370.9,1214.2 354.1,1210.2 340,1208.5 C325.9,1206.8 321.1,1206.4 298,1206 C274.9,1205.6 217.8,1206 201.7,1206 Z" fill="#c6c6c6"/>
<path d="M201.7,1289.5 C208.2,1289.2 224.9,1289.6 241,1288 C257.1,1286.4 281.5,1282.9 298,1280 C314.5,1277.1 325.9,1274.3 340,1270.5 C354.1,1266.7 370.8,1260.8 382.6,1257 C394.4,1253.2 401.5,1250.1 410.8,1248 C420.1,1245.9 429.3,1244.5 438.5,1244.5 C447.7,1244.5 456.9,1245.9 466.2,1248 C475.5,1250.1 482.6,1253.2 494.4,1257 C506.2,1260.8 522.9,1266.7 537,1270.5 C551.1,1274.3 562.5,1277.1 579,1280 C595.5,1282.9 620,1286.4 636,1288 C652,1289.6 668.8,1289.2 675.3,1289.5 L671.5,1462.4 L439.6,1697.6 L206,1461.3 L201.7,1461.3 Z" fill="#c6c6c6"/>
<g fill="#dadada">
<rect x="386.1" y="1419" width="3" height="2" />
<rect x="399.1" y="1419" width="3" height="2" />
<rect x="412.1" y="1419" width="3" height="2" />
<rect x="425.1" y="1419" width="3" height="2" />
<rect x="438.1" y="1419" width="3" height="2" />
<rect x="451.1" y="1419" width="3" height="2" />
<rect x="464.1" y="1419" width="3" height="2" />
<rect x="477.1" y="1419" width="3" height="2" />
<rect x="490.1" y="1419" width="3" height="2" />
<rect x="392.6" y="1428.8" width="3" height="2" />
<rect x="405.6" y="1428.8" width="3" height="2" />
<rect x="418.6" y="1428.8" width="3" height="2" />
<rect x="431.6" y="1428.8" width="3" height="2" />
<rect x="444.6" y="1428.8" width="3" height="2" />
<rect x="457.6" y="1428.8" width="3" height="2" />
<rect x="470.6" y="1428.8" width="3" height="2" />
<rect x="483.6" y="1428.8" width="3" height="2" />
<rect x="386.1" y="1438.6" width="3" height="2" />
<rect x="399.1" y="1438.6" width="3" height="2" />
<rect x="412.1" y="1438.6" width="3" height="2" />
<rect x="425.1" y="1438.6" width="3" height="2" />
<rect x="438.1" y="1438.6" width="3" height="2" />
<rect x="451.1" y="1438.6" width="3" height="2" />
<rect x="464.1" y="1438.6" width="3" height="2" />
<rect x="477.1" y="1438.6" width="3" height="2" />
<rect x="490.1" y="1438.6" width="3" height="2" />
<rect x="392.6" y="1448.4" width="3" height="2" />
<rect x="405.6" y="1448.4" width="3" height="2" />
<rect x="418.6" y="1448.4" width="3" height="2" />
<rect x="431.6" y="1448.4" width="3" height="2" />
<rect x="444.6" y="1448.4" width="3" height="2" />
<rect x="457.6" y="1448.4" width="3" height="2" />
<rect x="470.6" y="1448.4" width="3" height="2" />
<rect x="483.6" y="1448.4" width="3" height="2" />
<rect x="386.1" y="1458.2" width="3" height="2" />
<rect x="399.1" y="1458.2" width="3" height="2" />
<rect x="412.1" y="1458.2" width="3" height="2" />
<rect x="425.1" y="1458.2" width="3" height="2" />
<rect x="438.1" y="1458.2" width="3" height="2" />
<rect x="451.1" y="1458.2" width="3" height="2" />
<rect x="464.1" y="1458.2" width="3" height="2" />
<rect x="477.1" y="1458.2" width="3" height="2" />
<rect x="490.1" y="1458.2" width="3" height="2" />
<rect x="392.6" y="1468" width="3" height="2" />
<rect x="405.6" y="1468" width="3" height="2" />
<rect x="418.6" y="1468" width="3" height="2" />
<rect x="431.6" y="1468" width="3" height="2" />
<rect x="444.6" y="1468" width="3" height="2" />
<rect x="457.6" y="1468" width="3" height="2" />
<rect x="470.6" y="1468" width="3" height="2" />
<rect x="483.6" y="1468" width="3" height="2" />
<rect x="386.1" y="1477.8" width="3" height="2" />
<rect x="399.1" y="1477.8" width="3" height="2" />
<rect x="412.1" y="1477.8" width="3" height="2" />
<rect x="425.1" y="1477.8" width="3" height="2" />
<rect x="438.1" y="1477.8" width="3" height="2" />
<rect x="451.1" y="1477.8" width="3" height="2" />
<rect x="464.1" y="1477.8" width="3" height="2" />
<rect x="477.1" y="1477.8" width="3" height="2" />
<rect x="490.1" y="1477.8" width="3" height="2" />
<rect x="392.6" y="1487.6" width="3" height="2" />
<rect x="405.6" y="1487.6" width="3" height="2" />
<rect x="418.6" y="1487.6" width="3" height="2" />
<rect x="431.6" y="1487.6" width="3" height="2" />
<rect x="444.6" y="1487.6" width="3" height="2" />
<rect x="457.6" y="1487.6" width="3" height="2" />
<rect x="470.6" y="1487.6" width="3" height="2" />
<rect x="483.6" y="1487.6" width="3" height="2" />
<rect x="386.1" y="1497.4" width="3" height="2" />
<rect x="399.1" y="1497.4" width="3" height="2" />
<rect x="412.1" y="1497.4" width="3" height="2" />
<rect x="425.1" y="1497.4" width="3" height="2" />
<rect x="438.1" y="1497.4" width="3" height="2" />
<rect x="451.1" y="1497.4" width="3" height="2" />
<rect x="464.1" y="1497.4" width="3" height="2" />
<rect x="477.1" y="1497.4" width="3" height="2" />
<rect x="490.1" y="1497.4" width="3" height="2" />
<rect x="392.6" y="1507.2" width="3" height="2" />
<rect x="405.6" y="1507.2" width="3" height="2" />
<rect x="418.6" y="1507.2" width="3" height="2" />
<rect x="431.6" y="1507.2" width="3" height="2" />
<rect x="444.6" y="1507.2" width="3" height="2" />
<rect x="457.6" y="1507.2" width="3" height="2" />
<rect x="470.6" y="1507.2" width="3" height="2" />
<rect x="483.6" y="1507.2" width="3" height="2" />
<rect x="386.1" y="1517" width="3" height="2" />
<rect x="399.1" y="1517" width="3" height="2" />
<rect x="412.1" y="1517" width="3" height="2" />
<rect x="425.1" y="1517" width="3" height="2" />
<rect x="438.1" y="1517" width="3" height="2" />
<rect x="451.1" y="1517" width="3" height="2" />
<rect x="464.1" y="1517" width="3" height="2" />
<rect x="477.1" y="1517" width="3" height="2" />
<rect x="490.1" y="1517" width="3" height="2" />
<rect x="392.6" y="1526.8" width="3" height="2" />
<rect x="405.6" y="1526.8" width="3" height="2" />
<rect x="418.6" y="1526.8" width="3" height="2" />
<rect x="431.6" y="1526.8" width="3" height="2" />
<rect x="444.6" y="1526.8" width="3" height="2" />
<rect x="457.6" y="1526.8" width="3" height="2" />
<rect x="470.6" y="1526.8" width="3" height="2" />
<rect x="483.6" y="1526.8" width="3" height="2" />
<rect x="386.1" y="1536.6" width="3" height="2" />
<rect x="399.1" y="1536.6" width="3" height="2" />
<rect x="412.1" y="1536.6" width="3" height="2" />
<rect x="425.1" y="1536.6" width="3" height="2" />
<rect x="438.1" y="1536.6" width="3" height="2" />
<rect x="451.1" y="1536.6" width="3" height="2" />
<rect x="464.1" y="1536.6" width="3" height="2" />
<rect x="477.1" y="1536.6" width="3" height="2" />
<rect x="490.1" y="1536.6" width="3" height="2" />
<rect x="392.6" y="1546.4" width="3" height="2" />
<rect x="405.6" y="1546.4" width="3" height="2" />
<rect x="418.6" y="1546.4" width="3" height="2" />
<rect x="431.6" y="1546.4" width="3" height="2" />
<rect x="444.6" y="1546.4" width="3" height="2" />
<rect x="457.6" y="1546.4" width="3" height="2" />
<rect x="470.6" y="1546.4" width="3" height="2" />
<rect x="483.6" y="1546.4" width="3" height="2" />
<rect x="386.1" y="1556.2" width="3" height="2" />
<rect x="399.1" y="1556.2" width="3" height="2" />
<rect x="412.1" y="1556.2" width="3" height="2" />
<rect x="425.1" y="1556.2" width="3" height="2" />
<rect x="438.1" y="1556.2" width="3" height="2" />
<rect x="451.1" y="1556.2" width="3" height="2" />
<rect x="464.1" y="1556.2" width="3" height="2" />
<rect x="477.1" y="1556.2" width="3" height="2" />
<rect x="490.1" y="1556.2" width="3" height="2" />
<rect x="392.6" y="1566" width="3" height="2" />
<rect x="405.6" y="1566" width="3" height="2" />
<rect x="418.6" y="1566" width="3" height="2" />
<rect x="431.6" y="1566" width="3" height="2" />
<rect x="444.6" y="1566" width="3" height="2" />
<rect x="457.6" y="1566" width="3" height="2" />
<rect x="470.6" y="1566" width="3" height="2" />
<rect x="483.6" y="1566" width="3" height="2" />
<rect x="399.1" y="1575.8" width="3" height="2" />
<rect x="412.1" y="1575.8" width="3" height="2" />
<rect x="425.1" y="1575.8" width="3" height="2" />
<rect x="438.1" y="1575.8" width="3" height="2" />
<rect x="451.1" y="1575.8" width="3" height="2" />
<rect x="464.1" y="1575.8" width="3" height="2" />
<rect x="477.1" y="1575.8" width="3" height="2" />
<rect x="405.6" y="1585.6" width="3" height="2" />
<rect x="418.6" y="1585.6" width="3" height="2" />
<rect x="431.6" y="1585.6" width="3" height="2" />
<rect x="444.6" y="1585.6" width="3" height="2" />
<rect x="457.6" y="1585.6" width="3" height="2" />
<rect x="470.6" y="1585.6" width="3" height="2" />
<rect x="483.6" y="1585.6" width="3" height="2" />
<rect x="399.1" y="1595.4" width="3" height="2" />
<rect x="412.1" y="1595.4" width="3" height="2" />
<rect x="425.1" y="1595.4" width="3" height="2" />
<rect x="438.1" y="1595.4" width="3" height="2" />
<rect x="451.1" y="1595.4" width="3" height="2" />
<rect x="464.1" y="1595.4" width="3" height="2" />
<rect x="477.1" y="1595.4" width="3" height="2" />
<rect x="418.6" y="1605.2" width="3" height="2" />
<rect x="431.6" y="1605.2" width="3" height="2" />
<rect x="444.6" y="1605.2" width="3" height="2" />
<rect x="457.6" y="1605.2" width="3" height="2" />
<rect x="470.6" y="1605.2" width="3" height="2" />
<rect x="412.1" y="1615" width="3" height="2" />
<rect x="425.1" y="1615" width="3" height="2" />
<rect x="438.1" y="1615" width="3" height="2" />
<rect x="451.1" y="1615" width="3" height="2" />
<rect x="464.1" y="1615" width="3" height="2" />
<rect x="418.6" y="1624.8" width="3" height="2" />
<rect x="431.6" y="1624.8" width="3" height="2" />
<rect x="444.6" y="1624.8" width="3" height="2" />
<rect x="457.6" y="1624.8" width="3" height="2" />
<rect x="412.1" y="1634.6" width="3" height="2" />
<rect x="425.1" y="1634.6" width="3" height="2" />
<rect x="438.1" y="1634.6" width="3" height="2" />
<rect x="451.1" y="1634.6" width="3" height="2" />
<rect x="464.1" y="1634.6" width="3" height="2" />
<rect x="431.6" y="1644.4" width="3" height="2" />
<rect x="444.6" y="1644.4" width="3" height="2" />
<rect x="457.6" y="1644.4" width="3" height="2" />
<rect x="425.1" y="1654.2" width="3" height="2" />
<rect x="438.1" y="1654.2" width="3" height="2" />
<rect x="451.1" y="1654.2" width="3" height="2" />
<rect x="431.6" y="1664" width="3" height="2" />
<rect x="444.6" y="1664" width="3" height="2" />
<rect x="438.1" y="1673.8" width="3" height="2" />
</g>
<path d="M385,1416.5 H495" stroke="#e8e8e8" stroke-width="2" stroke-dasharray="6,6"/>
<path d="M206,1205.9 C215,1205.9 244.7,1205.9 260,1205.9 C275.3,1205.9 284.4,1205.5 297.8,1206 C311.2,1206.5 326.1,1206.6 340.2,1208.7 C354.3,1210.8 370.8,1215.5 382.6,1218.5 C394.4,1221.5 401.5,1224.1 410.8,1226.5 C420.1,1228.9 429.3,1230.1 438.5,1232.9 C447.7,1235.7 456.9,1239.9 466.2,1243.5 C475.5,1247.1 482.6,1250.4 494.4,1254.5 C506.2,1258.6 522.7,1264.1 536.8,1268 C550.9,1271.9 562.7,1274.8 579.2,1277.9 C595.7,1281 620.4,1284.8 635.7,1286.4 C651,1288.1 665.1,1287.6 671,1287.8" fill="none" stroke="#d01010" stroke-width="3.8"/>
<path d="M206,1287.8 C211.9,1287.6 226,1288.1 241.3,1286.4 C256.6,1284.8 281.3,1281 297.8,1277.9 C314.3,1274.8 326.1,1271.9 340.2,1268 C354.3,1264.1 370.8,1258.6 382.6,1254.5 C394.4,1250.4 401.5,1247.1 410.8,1243.5 C420.1,1239.9 429.3,1235.7 438.5,1232.9 C447.7,1230.1 456.9,1228.9 466.2,1226.5 C475.5,1224.1 482.6,1221.5 494.4,1218.5 C506.2,1215.5 522.7,1210.8 536.8,1208.7 C550.9,1206.6 565.8,1206.5 579.2,1206 C592.6,1205.5 601.7,1205.9 617,1205.9 C632.3,1205.9 662,1205.9 671,1205.9" fill="none" stroke="#d01010" stroke-width="3.8"/>
<rect x="206" y="1112" width="465.5" height="585.5999999999999" fill="none" stroke="#000" stroke-width="2.2"/>
<line x1="206" y1="1502" x2="223" y2="1502" stroke="#000" stroke-width="2.2"/>
<line x1="654.5" y1="1502" x2="671.5" y2="1502" stroke="#000" stroke-width="2.2"/>
<line x1="438.4" y1="1112" x2="438.4" y2="1125" stroke="#000" stroke-width="2"/>
<text transform="translate(182,1124) scale(1.27,1)" text-anchor="end" font-family="Liberation Serif, serif" font-size="35.5" fill="#000">0.6</text>
<text transform="translate(182,1319.5) scale(1.27,1)" text-anchor="end" font-family="Liberation Serif, serif" font-size="35.5" fill="#000">0.4</text>
<text transform="translate(182,1514) scale(1.27,1)" text-anchor="end" font-family="Liberation Serif, serif" font-size="35.5" fill="#000">0.2</text>
<text transform="translate(182,1709) scale(1.27,1)" text-anchor="end" font-family="Liberation Serif, serif" font-size="35.5" fill="#000">0</text>
<text transform="translate(169,1742.5) scale(1.18,1)" font-family="Liberation Serif, serif" font-size="40" fill="#000">−0.5</text>
<text transform="translate(426,1742.5) scale(1.18,1)" font-family="Liberation Serif, serif" font-size="40" fill="#000">0</text>
<text transform="translate(630,1742.5) scale(1.15,1)" font-family="Liberation Serif, serif" font-size="40" fill="#000">0.5</text>
<text transform="translate(460.5,1745) scale(1,1)" font-family="Liberation Serif, serif" font-size="34" font-style="italic" fill="#000">k</text><text transform="translate(480,1753) skewX(-14)" font-family="Liberation Serif, serif" font-size="29" fill="#000">x</text><text transform="translate(514.5,1733.7) scale(1,1)" font-family="Liberation Serif, serif" font-size="32" fill="#000">2</text><text transform="translate(530.5,1733.7) scale(1,1)" font-family="Liberation Serif, serif" font-size="32" font-style="italic" fill="#000">π</text><text transform="translate(555,1755) scale(1,1)" font-family="Liberation Serif, serif" font-size="58" font-style="italic" fill="#000">/</text><text transform="translate(568.6,1753.7) scale(1,1)" font-family="Liberation Serif, serif" font-size="31" font-style="italic" fill="#000">a</text><text transform="translate(586.6,1759.7) scale(1,1)" font-family="Liberation Serif, serif" font-size="24" fill="#000">0</text><path d="M511.5,1708 h-6.5 v56 h6.5" fill="none" stroke="#000" stroke-width="2.4"/><path d="M602,1708 h6.5 v56 h-6.5" fill="none" stroke="#000" stroke-width="2.4"/>
<text transform="translate(109,1581) rotate(-90)" font-family="Liberation Serif, serif" font-size="51" fill="#000">Frequency [<tspan font-style="italic">c</tspan>/<tspan font-style="italic">a</tspan><tspan font-size="33" dy="8">0</tspan><tspan dy="-8">]</tspan></text>
<text x="3.5" y="1137" font-family="Liberation Sans, sans-serif" font-weight="bold" font-size="44" fill="#000">C</text>
<line x1="672" y1="1181.5" x2="798" y2="1105.5" stroke="#555" stroke-width="2" stroke-dasharray="7,5"/>
<line x1="667.5" y1="1333" x2="795" y2="1689" stroke="#555" stroke-width="2" stroke-dasharray="7,5"/>
<path d="M798.3,1105 L1261.4,1105 L1261.4,1145 L1259.3,1146 C1242.6,1146.3 1180.4,1145.9 1159,1148 C1137.6,1150.1 1138.5,1155 1130.7,1158.5 C1122.8,1162 1117.5,1164.9 1111.9,1168.8 C1106.2,1172.7 1101.8,1177.1 1096.8,1182 C1091.8,1186.9 1087,1192.8 1081.7,1198 C1076.4,1203.2 1070.8,1208 1064.8,1213 C1058.8,1218 1051.9,1224.8 1045.9,1228.1 C1039.9,1231.4 1034.5,1232.8 1028.8,1232.8 C1023.1,1232.8 1017.7,1231.4 1011.7,1228.1 C1005.7,1224.8 998.8,1218 992.8,1213 C986.8,1208 981.2,1203.2 975.9,1198 C970.6,1192.8 965.8,1186.9 960.8,1182 C955.8,1177.1 951.4,1172.7 945.7,1168.8 C940.1,1164.9 934.8,1162 926.9,1158.5 C919,1155 920,1150.1 898.6,1148 C877.2,1145.9 815,1146.3 798.3,1146 Z" fill="#c6c6c6"/>
<path d="M798.3,1590.9 C804,1589 822,1584.5 832.7,1579.5 C843.5,1574.5 854,1567.6 862.8,1560.7 C871.6,1553.8 877.9,1545.9 885.4,1538.1 C892.9,1530.2 901.1,1521.4 908,1513.6 C914.9,1505.8 920.6,1498.8 926.9,1491 C933.2,1483.2 939.4,1475.3 945.7,1466.5 C952,1457.7 959,1447.4 964.6,1438.3 C970.2,1429.2 974.6,1420.7 979.6,1411.9 C984.6,1403.1 990.3,1392.4 994.7,1385.5 C999.1,1378.6 1002.5,1374.3 1006,1370.4 C1009.5,1366.5 1012.2,1363.9 1016,1362 C1019.8,1360.1 1024.5,1359.1 1028.8,1359.1 C1033.1,1359.1 1037.8,1360.1 1041.6,1362 C1045.4,1363.9 1048,1366.5 1051.6,1370.4 C1055.1,1374.3 1058.5,1378.6 1062.9,1385.5 C1067.3,1392.4 1073,1403.1 1078,1411.9 C1083,1420.7 1087.3,1429.2 1093,1438.3 C1098.7,1447.4 1105.6,1457.7 1111.9,1466.5 C1118.2,1475.3 1124.4,1483.2 1130.7,1491 C1137,1498.8 1142.7,1505.8 1149.6,1513.6 C1156.5,1521.4 1164.7,1530.2 1172.2,1538.1 C1179.7,1545.9 1186,1553.8 1194.8,1560.7 C1203.6,1567.6 1214.1,1574.5 1224.9,1579.5 C1235.6,1584.5 1253.6,1589 1259.3,1590.9 L1261.4,1690 L798.3,1690 Z" fill="#c6c6c6"/>
<circle cx="1008" cy="1110" r="2.2" fill="#fff"/>
<circle cx="1020" cy="1112" r="2.2" fill="#fff"/>
<circle cx="1032" cy="1110" r="2.2" fill="#fff"/>
<circle cx="1044" cy="1112" r="2.2" fill="#fff"/>
<circle cx="1014" cy="1121" r="2.2" fill="#fff"/>
<circle cx="1026" cy="1123" r="2.2" fill="#fff"/>
<circle cx="1038" cy="1121" r="2.2" fill="#fff"/>
<circle cx="1020" cy="1131" r="2.2" fill="#fff"/>
<circle cx="1032" cy="1131" r="2.2" fill="#fff"/>
<path d="M1027,1593 l3.5,7 l-3.5,7 l-3.5,-7 Z" fill="#fff"/>
<rect x="1022.5" y="1599" width="9" height="2" fill="#fff"/>
<path d="M1017.5,1612 l3.5,7 l-3.5,7 l-3.5,-7 Z" fill="#fff"/>
<rect x="1013" y="1618" width="9" height="2" fill="#fff"/>
<path d="M1036.5,1612 l3.5,7 l-3.5,7 l-3.5,-7 Z" fill="#fff"/>
<rect x="1032" y="1618" width="9" height="2" fill="#fff"/>
<path d="M1008,1631 l3.5,7 l-3.5,7 l-3.5,-7 Z" fill="#fff"/>
<rect x="1003.5" y="1637" width="9" height="2" fill="#fff"/>
<path d="M1027,1631 l3.5,7 l-3.5,7 l-3.5,-7 Z" fill="#fff"/>
<rect x="1022.5" y="1637" width="9" height="2" fill="#fff"/>
<path d="M1046,1631 l3.5,7 l-3.5,7 l-3.5,-7 Z" fill="#fff"/>
<rect x="1041.5" y="1637" width="9" height="2" fill="#fff"/>
<path d="M998.5,1650 l3.5,7 l-3.5,7 l-3.5,-7 Z" fill="#fff"/>
<rect x="994" y="1656" width="9" height="2" fill="#fff"/>
<path d="M1017.5,1650 l3.5,7 l-3.5,7 l-3.5,-7 Z" fill="#fff"/>
<rect x="1013" y="1656" width="9" height="2" fill="#fff"/>
<path d="M1036.5,1650 l3.5,7 l-3.5,7 l-3.5,-7 Z" fill="#fff"/>
<rect x="1032" y="1656" width="9" height="2" fill="#fff"/>
<path d="M1055.5,1650 l3.5,7 l-3.5,7 l-3.5,-7 Z" fill="#fff"/>
<rect x="1051" y="1656" width="9" height="2" fill="#fff"/>
<path d="M989,1669 l3.5,7 l-3.5,7 l-3.5,-7 Z" fill="#fff"/>
<rect x="984.5" y="1675" width="9" height="2" fill="#fff"/>
<path d="M1008,1669 l3.5,7 l-3.5,7 l-3.5,-7 Z" fill="#fff"/>
<rect x="1003.5" y="1675" width="9" height="2" fill="#fff"/>
<path d="M1027,1669 l3.5,7 l-3.5,7 l-3.5,-7 Z" fill="#fff"/>
<rect x="1022.5" y="1675" width="9" height="2" fill="#fff"/>
<path d="M1046,1669 l3.5,7 l-3.5,7 l-3.5,-7 Z" fill="#fff"/>
<rect x="1041.5" y="1675" width="9" height="2" fill="#fff"/>
<path d="M1065,1669 l3.5,7 l-3.5,7 l-3.5,-7 Z" fill="#fff"/>
<rect x="1060.5" y="1675" width="9" height="2" fill="#fff"/>
<path d="M798.3,1145.2 C804,1145.2 820.7,1145.3 832.7,1145.2 C844.7,1145.1 859.4,1144.3 870.4,1144.6 C881.4,1144.9 889.2,1144.9 898.6,1147.1 C908,1149.2 919,1154 926.9,1157.5 C934.8,1161 940.1,1163.9 945.7,1167.8 C951.4,1171.7 956.1,1176 960.8,1181 C965.5,1186 969.9,1192.3 974,1198 C978.1,1203.7 981.5,1209.2 985.3,1214.9 C989.1,1220.6 992.8,1225.9 996.6,1231.9 C1000.4,1237.9 1004.1,1244.4 1007.9,1250.7 C1011.7,1257 1015.7,1263.8 1019.2,1269.6 C1022.7,1275.4 1025.3,1277.9 1028.8,1285.5 C1032.3,1293.1 1036.5,1306.9 1040.3,1315 C1044.1,1323.1 1049.1,1329.2 1051.6,1334 C1054.1,1338.8 1052.9,1338.2 1055.4,1344 C1057.9,1349.8 1062.3,1359.1 1066.7,1368.5 C1071.1,1377.9 1076.7,1390.2 1081.7,1400.6 C1086.7,1411 1091.8,1421.3 1096.8,1430.7 C1101.8,1440.1 1106.9,1448.9 1111.9,1457.1 C1116.9,1465.3 1121.3,1471.8 1127,1479.7 C1132.7,1487.6 1138.9,1496 1145.8,1504.2 C1152.7,1512.4 1160.9,1521.2 1168.4,1528.7 C1175.9,1536.2 1183.2,1543.1 1191,1549.4 C1198.8,1555.7 1207.3,1562 1215.5,1566.4 C1223.7,1570.8 1232.7,1573.3 1240,1575.8 C1247.3,1578.3 1256.1,1580.5 1259.3,1581.4" fill="none" stroke="#fff" stroke-width="10" opacity="0.9"/>
<path d="M798.3,1581.4 C801.5,1580.5 810.3,1578.3 817.6,1575.8 C824.9,1573.3 833.9,1570.8 842.1,1566.4 C850.3,1562 858.8,1555.7 866.6,1549.4 C874.5,1543.1 881.7,1536.2 889.2,1528.7 C896.7,1521.2 904.9,1512.4 911.8,1504.2 C918.7,1496 925,1487.6 930.6,1479.7 C936.2,1471.8 940.7,1465.3 945.7,1457.1 C950.7,1448.9 955.8,1440.1 960.8,1430.7 C965.8,1421.3 970.9,1411 975.9,1400.6 C980.9,1390.2 986.5,1377.9 990.9,1368.5 C995.3,1359.1 999.7,1349.8 1002.2,1344 C1004.7,1338.2 1003.5,1338.8 1006,1334 C1008.5,1329.2 1013.5,1323.1 1017.3,1315 C1021.1,1306.9 1025.3,1293.1 1028.8,1285.5 C1032.3,1277.9 1034.9,1275.4 1038.4,1269.6 C1041.9,1263.8 1045.9,1257 1049.7,1250.7 C1053.5,1244.4 1057.2,1237.9 1061,1231.9 C1064.8,1225.9 1068.5,1220.6 1072.3,1214.9 C1076.1,1209.2 1079.5,1203.7 1083.6,1198 C1087.7,1192.3 1092.1,1186 1096.8,1181 C1101.5,1176 1106.2,1171.7 1111.9,1167.8 C1117.5,1163.9 1122.8,1161 1130.7,1157.5 C1138.5,1154 1149.6,1149.2 1159,1147.1 C1168.4,1144.9 1176.2,1144.9 1187.2,1144.6 C1198.2,1144.3 1212.9,1145.1 1224.9,1145.2 C1236.9,1145.3 1253.6,1145.2 1259.3,1145.2" fill="none" stroke="#fff" stroke-width="10" opacity="0.9"/>
<path d="M798.3,1145.2 C804,1145.2 820.7,1145.3 832.7,1145.2 C844.7,1145.1 859.4,1144.3 870.4,1144.6 C881.4,1144.9 889.2,1144.9 898.6,1147.1 C908,1149.2 919,1154 926.9,1157.5 C934.8,1161 940.1,1163.9 945.7,1167.8 C951.4,1171.7 956.1,1176 960.8,1181 C965.5,1186 969.9,1192.3 974,1198 C978.1,1203.7 981.5,1209.2 985.3,1214.9 C989.1,1220.6 992.8,1225.9 996.6,1231.9 C1000.4,1237.9 1004.1,1244.4 1007.9,1250.7 C1011.7,1257 1015.7,1263.8 1019.2,1269.6 C1022.7,1275.4 1025.3,1277.9 1028.8,1285.5 C1032.3,1293.1 1036.5,1306.9 1040.3,1315 C1044.1,1323.1 1049.1,1329.2 1051.6,1334 C1054.1,1338.8 1052.9,1338.2 1055.4,1344 C1057.9,1349.8 1062.3,1359.1 1066.7,1368.5 C1071.1,1377.9 1076.7,1390.2 1081.7,1400.6 C1086.7,1411 1091.8,1421.3 1096.8,1430.7 C1101.8,1440.1 1106.9,1448.9 1111.9,1457.1 C1116.9,1465.3 1121.3,1471.8 1127,1479.7 C1132.7,1487.6 1138.9,1496 1145.8,1504.2 C1152.7,1512.4 1160.9,1521.2 1168.4,1528.7 C1175.9,1536.2 1183.2,1543.1 1191,1549.4 C1198.8,1555.7 1207.3,1562 1215.5,1566.4 C1223.7,1570.8 1232.7,1573.3 1240,1575.8 C1247.3,1578.3 1256.1,1580.5 1259.3,1581.4" fill="none" stroke="#d01010" stroke-width="6"/>
<path d="M798.3,1581.4 C801.5,1580.5 810.3,1578.3 817.6,1575.8 C824.9,1573.3 833.9,1570.8 842.1,1566.4 C850.3,1562 858.8,1555.7 866.6,1549.4 C874.5,1543.1 881.7,1536.2 889.2,1528.7 C896.7,1521.2 904.9,1512.4 911.8,1504.2 C918.7,1496 925,1487.6 930.6,1479.7 C936.2,1471.8 940.7,1465.3 945.7,1457.1 C950.7,1448.9 955.8,1440.1 960.8,1430.7 C965.8,1421.3 970.9,1411 975.9,1400.6 C980.9,1390.2 986.5,1377.9 990.9,1368.5 C995.3,1359.1 999.7,1349.8 1002.2,1344 C1004.7,1338.2 1003.5,1338.8 1006,1334 C1008.5,1329.2 1013.5,1323.1 1017.3,1315 C1021.1,1306.9 1025.3,1293.1 1028.8,1285.5 C1032.3,1277.9 1034.9,1275.4 1038.4,1269.6 C1041.9,1263.8 1045.9,1257 1049.7,1250.7 C1053.5,1244.4 1057.2,1237.9 1061,1231.9 C1064.8,1225.9 1068.5,1220.6 1072.3,1214.9 C1076.1,1209.2 1079.5,1203.7 1083.6,1198 C1087.7,1192.3 1092.1,1186 1096.8,1181 C1101.5,1176 1106.2,1171.7 1111.9,1167.8 C1117.5,1163.9 1122.8,1161 1130.7,1157.5 C1138.5,1154 1149.6,1149.2 1159,1147.1 C1168.4,1144.9 1176.2,1144.9 1187.2,1144.6 C1198.2,1144.3 1212.9,1145.1 1224.9,1145.2 C1236.9,1145.3 1253.6,1145.2 1259.3,1145.2" fill="none" stroke="#d01010" stroke-width="6"/>
<rect x="798.3" y="1105" width="463.10000000000014" height="585" fill="none" stroke="#000" stroke-width="2.4"/>
<line x1="798.3" y1="1270.4" x2="817.3" y2="1270.4" stroke="#000" stroke-width="2.2"/>
<line x1="1242.4" y1="1270.4" x2="1261.4" y2="1270.4" stroke="#000" stroke-width="2.2"/>
<line x1="798.3" y1="1479.5" x2="817.3" y2="1479.5" stroke="#000" stroke-width="2.2"/>
<line x1="1242.4" y1="1479.5" x2="1261.4" y2="1479.5" stroke="#000" stroke-width="2.2"/>
<circle cx="1006" cy="1328.2" r="12.5" fill="#0a0ae6"/>
<circle cx="1046.5" cy="1328.2" r="12.5" fill="#a0109a"/>
<text x="943.5" y="1344.7" font-family="Liberation Serif, serif" font-weight="bold" font-size="47" fill="#1010d8">A</text>
<text x="1074.5" y="1346" font-family="Liberation Serif, serif" font-weight="bold" font-size="46" fill="#a0109a">B</text>
<text transform="translate(773,1284.8) scale(1.1,1)" text-anchor="end" font-family="Liberation Serif, serif" font-size="42.5" fill="#000">0.48</text>
<text transform="translate(773,1493.9) scale(1.1,1)" text-anchor="end" font-family="Liberation Serif, serif" font-size="42.5" fill="#000">0.44</text>
<text transform="translate(773,1703.4) scale(1.1,1)" text-anchor="end" font-family="Liberation Serif, serif" font-size="42.5" fill="#000">0.4</text>
<text transform="translate(750,1737) scale(1.18,1)" font-family="Liberation Serif, serif" font-size="40" fill="#000">−0.5</text>
<text transform="translate(1007,1737) scale(1.18,1)" font-family="Liberation Serif, serif" font-size="40" fill="#000">0</text>
<text transform="translate(1210,1737) scale(1.16,1)" font-family="Liberation Serif, serif" font-size="40" fill="#000">0.5</text>
<text transform="translate(1053.2,1740) scale(1,1)" font-family="Liberation Serif, serif" font-size="34" font-style="italic" fill="#000">k</text><text transform="translate(1072.7,1748) skewX(-14)" font-family="Liberation Serif, serif" font-size="29" fill="#000">x</text><text transform="translate(1107.2,1728.7) scale(1,1)" font-family="Liberation Serif, serif" font-size="32" fill="#000">2</text><text transform="translate(1123.2,1728.7) scale(1,1)" font-family="Liberation Serif, serif" font-size="32" font-style="italic" fill="#000">π</text><text transform="translate(1147.7,1750) scale(1,1)" font-family="Liberation Serif, serif" font-size="58" font-style="italic" fill="#000">/</text><text transform="translate(1161.3,1748.7) scale(1,1)" font-family="Liberation Serif, serif" font-size="31" font-style="italic" fill="#000">a</text><text transform="translate(1179.3,1754.7) scale(1,1)" font-family="Liberation Serif, serif" font-size="24" fill="#000">0</text><path d="M1104.2,1703 h-6.5 v56 h6.5" fill="none" stroke="#000" stroke-width="2.4"/><path d="M1194.7,1703 h6.5 v56 h-6.5" fill="none" stroke="#000" stroke-width="2.4"/>
<g clip-path="url(#clipA)"><g filter="url(#divmap)"><rect x="40" y="1789" width="900" height="260.5" fill="#808080"/><circle cx="257" cy="1873.5" r="28.8" fill="#000" opacity="0"/><circle cx="238" cy="1906.4" r="28.8" fill="#000" opacity="0"/><circle cx="200" cy="1906.4" r="28.8" fill="#fff" opacity="0"/><circle cx="238" cy="1840.6" r="28.8" fill="#fff" opacity="0"/><circle cx="362.3" cy="1873.5" r="28.8" fill="#000" opacity="0"/><circle cx="343.3" cy="1906.4" r="28.8" fill="#000" opacity="0.1"/><circle cx="305.3" cy="1906.4" r="28.8" fill="#fff" opacity="0.1"/><circle cx="305.3" cy="1840.6" r="28.8" fill="#000" opacity="0"/><circle cx="343.3" cy="1840.6" r="28.8" fill="#fff" opacity="0.1"/><circle cx="467.6" cy="1873.5" r="28.8" fill="#000" opacity="0.1"/><circle cx="448.6" cy="1906.4" r="28.8" fill="#000" opacity="0.2"/><circle cx="410.6" cy="1906.4" r="28.8" fill="#fff" opacity="0.1"/><circle cx="410.6" cy="1840.6" r="28.8" fill="#000" opacity="0"/><circle cx="448.6" cy="1840.6" r="28.8" fill="#fff" opacity="0.1"/><circle cx="572.9" cy="1873.5" r="28.8" fill="#000" opacity="0.2"/><circle cx="553.9" cy="1906.4" r="28.8" fill="#000" opacity="0.4"/><circle cx="515.9" cy="1906.4" r="28.8" fill="#fff" opacity="0.2"/><circle cx="515.9" cy="1840.6" r="28.8" fill="#000" opacity="0.1"/><circle cx="553.9" cy="1840.6" r="28.8" fill="#fff" opacity="0.3"/><circle cx="678.2" cy="1873.5" r="28.8" fill="#000" opacity="0.4"/><circle cx="659.2" cy="1906.4" r="28.8" fill="#000" opacity="0.8"/><circle cx="621.2" cy="1906.4" r="28.8" fill="#fff" opacity="0.5"/><circle cx="621.2" cy="1840.6" r="28.8" fill="#000" opacity="0.2"/><circle cx="659.2" cy="1840.6" r="28.8" fill="#fff" opacity="0.7"/><circle cx="203.4" cy="1963.4" r="28.8" fill="#000" opacity="0"/><circle cx="184.4" cy="1996.3" r="28.8" fill="#000" opacity="0"/><circle cx="146.4" cy="1996.3" r="28.8" fill="#fff" opacity="0"/><circle cx="184.4" cy="1930.5" r="28.8" fill="#fff" opacity="0"/><circle cx="308.7" cy="1963.4" r="28.8" fill="#000" opacity="0"/><circle cx="289.7" cy="1996.3" r="28.8" fill="#000" opacity="0.1"/><circle cx="251.7" cy="1996.3" r="28.8" fill="#fff" opacity="0"/><circle cx="251.7" cy="1930.5" r="28.8" fill="#000" opacity="0"/><circle cx="289.7" cy="1930.5" r="28.8" fill="#fff" opacity="0.1"/><circle cx="414" cy="1963.4" r="28.8" fill="#000" opacity="0.1"/><circle cx="395" cy="1996.3" r="28.8" fill="#000" opacity="0.1"/><circle cx="357" cy="1996.3" r="28.8" fill="#fff" opacity="0.1"/><circle cx="357" cy="1930.5" r="28.8" fill="#000" opacity="0"/><circle cx="395" cy="1930.5" r="28.8" fill="#fff" opacity="0.1"/><circle cx="519.3" cy="1963.4" r="28.8" fill="#000" opacity="0.2"/><circle cx="500.3" cy="1996.3" r="28.8" fill="#000" opacity="0.3"/><circle cx="462.3" cy="1996.3" r="28.8" fill="#fff" opacity="0.2"/><circle cx="462.3" cy="1930.5" r="28.8" fill="#000" opacity="0.1"/><circle cx="500.3" cy="1930.5" r="28.8" fill="#fff" opacity="0.3"/><circle cx="624.6" cy="1963.4" r="28.8" fill="#000" opacity="0.4"/><circle cx="605.6" cy="1996.3" r="28.8" fill="#000" opacity="0.8"/><circle cx="567.6" cy="1996.3" r="28.8" fill="#fff" opacity="0.5"/><circle cx="567.6" cy="1930.5" r="28.8" fill="#000" opacity="0.2"/><circle cx="605.6" cy="1930.5" r="28.8" fill="#fff" opacity="0.7"/><circle cx="774" cy="1873.5" r="22.8" fill="#000" opacity="0.3"/><circle cx="760" cy="1897.7" r="22.8" fill="#000" opacity="0.4"/><circle cx="718" cy="1873.5" r="22.8" fill="#fff" opacity="0.3"/><circle cx="732" cy="1849.3" r="22.8" fill="#fff" opacity="0.3"/><circle cx="760" cy="1849.3" r="22.8" fill="#fff" opacity="0.2"/><circle cx="880.5" cy="1873.5" r="22.8" fill="#000" opacity="0.2"/><circle cx="866.5" cy="1897.7" r="22.8" fill="#000" opacity="0.2"/><circle cx="824.5" cy="1873.5" r="22.8" fill="#fff" opacity="0.1"/><circle cx="838.5" cy="1849.3" r="22.8" fill="#fff" opacity="0.1"/><circle cx="866.5" cy="1849.3" r="22.8" fill="#fff" opacity="0.1"/><circle cx="721.6" cy="1963.4" r="22.8" fill="#000" opacity="0.3"/><circle cx="707.6" cy="1987.6" r="22.8" fill="#000" opacity="0.4"/><circle cx="665.6" cy="1963.4" r="22.8" fill="#fff" opacity="0.3"/><circle cx="679.6" cy="1939.2" r="22.8" fill="#fff" opacity="0.3"/><circle cx="707.6" cy="1939.2" r="22.8" fill="#fff" opacity="0.2"/><circle cx="827.2" cy="1963.4" r="22.8" fill="#000" opacity="0.2"/><circle cx="813.2" cy="1987.6" r="22.8" fill="#000" opacity="0.2"/><circle cx="771.2" cy="1963.4" r="22.8" fill="#fff" opacity="0.1"/><circle cx="785.2" cy="1939.2" r="22.8" fill="#fff" opacity="0.1"/><circle cx="813.2" cy="1939.2" r="22.8" fill="#fff" opacity="0.1"/></g></g>
<g clip-path="url(#clipA)" filter="url(#dblur)" fill="#b0b0b0" style="mix-blend-mode:multiply"><circle cx="257" cy="1873.5" r="11.5"/><circle cx="238" cy="1906.4" r="11.5"/><circle cx="200" cy="1906.4" r="11.5"/><circle cx="181" cy="1873.5" r="11.5"/><circle cx="200" cy="1840.6" r="11.5"/><circle cx="238" cy="1840.6" r="11.5"/><circle cx="362.3" cy="1873.5" r="11.5"/><circle cx="343.3" cy="1906.4" r="11.5"/><circle cx="305.3" cy="1906.4" r="11.5"/><circle cx="286.3" cy="1873.5" r="11.5"/><circle cx="305.3" cy="1840.6" r="11.5"/><circle cx="343.3" cy="1840.6" r="11.5"/><circle cx="467.6" cy="1873.5" r="11.5"/><circle cx="448.6" cy="1906.4" r="11.5"/><circle cx="410.6" cy="1906.4" r="11.5"/><circle cx="391.6" cy="1873.5" r="11.5"/><circle cx="410.6" cy="1840.6" r="11.5"/><circle cx="448.6" cy="1840.6" r="11.5"/><circle cx="572.9" cy="1873.5" r="11.5"/><circle cx="553.9" cy="1906.4" r="11.5"/><circle cx="515.9" cy="1906.4" r="11.5"/><circle cx="496.9" cy="1873.5" r="11.5"/><circle cx="515.9" cy="1840.6" r="11.5"/><circle cx="553.9" cy="1840.6" r="11.5"/><circle cx="678.2" cy="1873.5" r="11.5"/><circle cx="659.2" cy="1906.4" r="11.5"/><circle cx="621.2" cy="1906.4" r="11.5"/><circle cx="602.2" cy="1873.5" r="11.5"/><circle cx="621.2" cy="1840.6" r="11.5"/><circle cx="659.2" cy="1840.6" r="11.5"/><circle cx="203.4" cy="1963.4" r="11.5"/><circle cx="184.4" cy="1996.3" r="11.5"/><circle cx="146.4" cy="1996.3" r="11.5"/><circle cx="127.4" cy="1963.4" r="11.5"/><circle cx="146.4" cy="1930.5" r="11.5"/><circle cx="184.4" cy="1930.5" r="11.5"/><circle cx="308.7" cy="1963.4" r="11.5"/><circle cx="289.7" cy="1996.3" r="11.5"/><circle cx="251.7" cy="1996.3" r="11.5"/><circle cx="232.7" cy="1963.4" r="11.5"/><circle cx="251.7" cy="1930.5" r="11.5"/><circle cx="289.7" cy="1930.5" r="11.5"/><circle cx="414" cy="1963.4" r="11.5"/><circle cx="395" cy="1996.3" r="11.5"/><circle cx="357" cy="1996.3" r="11.5"/><circle cx="338" cy="1963.4" r="11.5"/><circle cx="357" cy="1930.5" r="11.5"/><circle cx="395" cy="1930.5" r="11.5"/><circle cx="519.3" cy="1963.4" r="11.5"/><circle cx="500.3" cy="1996.3" r="11.5"/><circle cx="462.3" cy="1996.3" r="11.5"/><circle cx="443.3" cy="1963.4" r="11.5"/><circle cx="462.3" cy="1930.5" r="11.5"/><circle cx="500.3" cy="1930.5" r="11.5"/><circle cx="624.6" cy="1963.4" r="11.5"/><circle cx="605.6" cy="1996.3" r="11.5"/><circle cx="567.6" cy="1996.3" r="11.5"/><circle cx="548.6" cy="1963.4" r="11.5"/><circle cx="567.6" cy="1930.5" r="11.5"/><circle cx="605.6" cy="1930.5" r="11.5"/><circle cx="774" cy="1873.5" r="11.5"/><circle cx="760" cy="1897.7" r="11.5"/><circle cx="732" cy="1897.7" r="11.5"/><circle cx="718" cy="1873.5" r="11.5"/><circle cx="732" cy="1849.3" r="11.5"/><circle cx="760" cy="1849.3" r="11.5"/><circle cx="880.5" cy="1873.5" r="11.5"/><circle cx="866.5" cy="1897.7" r="11.5"/><circle cx="838.5" cy="1897.7" r="11.5"/><circle cx="824.5" cy="1873.5" r="11.5"/><circle cx="838.5" cy="1849.3" r="11.5"/><circle cx="866.5" cy="1849.3" r="11.5"/><circle cx="721.6" cy="1963.4" r="11.5"/><circle cx="707.6" cy="1987.6" r="11.5"/><circle cx="679.6" cy="1987.6" r="11.5"/><circle cx="665.6" cy="1963.4" r="11.5"/><circle cx="679.6" cy="1939.2" r="11.5"/><circle cx="707.6" cy="1939.2" r="11.5"/><circle cx="827.2" cy="1963.4" r="11.5"/><circle cx="813.2" cy="1987.6" r="11.5"/><circle cx="785.2" cy="1987.6" r="11.5"/><circle cx="771.2" cy="1963.4" r="11.5"/><circle cx="785.2" cy="1939.2" r="11.5"/><circle cx="813.2" cy="1939.2" r="11.5"/></g>
<g clip-path="url(#clipB)"><g filter="url(#divmap)"><rect x="40" y="2009.6" width="900" height="274.3000000000002" fill="#808080"/><circle cx="230.4" cy="2098.8" r="30.6" fill="#fff" opacity="0"/><circle cx="209.9" cy="2134.3" r="30.6" fill="#fff" opacity="0"/><circle cx="168.9" cy="2134.3" r="30.6" fill="#000" opacity="0"/><circle cx="209.9" cy="2063.3" r="30.6" fill="#000" opacity="0"/><circle cx="342" cy="2098.8" r="30.6" fill="#fff" opacity="0"/><circle cx="321.5" cy="2134.3" r="30.6" fill="#fff" opacity="0.1"/><circle cx="280.5" cy="2134.3" r="30.6" fill="#000" opacity="0.1"/><circle cx="280.5" cy="2063.3" r="30.6" fill="#fff" opacity="0"/><circle cx="321.5" cy="2063.3" r="30.6" fill="#000" opacity="0.1"/><circle cx="454" cy="2098.8" r="30.6" fill="#fff" opacity="0.1"/><circle cx="433.5" cy="2134.3" r="30.6" fill="#fff" opacity="0.2"/><circle cx="392.5" cy="2134.3" r="30.6" fill="#000" opacity="0.1"/><circle cx="392.5" cy="2063.3" r="30.6" fill="#fff" opacity="0"/><circle cx="433.5" cy="2063.3" r="30.6" fill="#000" opacity="0.1"/><circle cx="566" cy="2098.8" r="30.6" fill="#fff" opacity="0.2"/><circle cx="545.5" cy="2134.3" r="30.6" fill="#fff" opacity="0.4"/><circle cx="504.5" cy="2134.3" r="30.6" fill="#000" opacity="0.2"/><circle cx="504.5" cy="2063.3" r="30.6" fill="#fff" opacity="0.1"/><circle cx="545.5" cy="2063.3" r="30.6" fill="#000" opacity="0.3"/><circle cx="678" cy="2098.8" r="30.6" fill="#fff" opacity="0.4"/><circle cx="657.5" cy="2134.3" r="30.6" fill="#fff" opacity="0.8"/><circle cx="616.5" cy="2134.3" r="30.6" fill="#000" opacity="0.5"/><circle cx="616.5" cy="2063.3" r="30.6" fill="#fff" opacity="0.2"/><circle cx="657.5" cy="2063.3" r="30.6" fill="#000" opacity="0.7"/><circle cx="174.4" cy="2194.8" r="30.6" fill="#fff" opacity="0"/><circle cx="153.9" cy="2230.3" r="30.6" fill="#fff" opacity="0"/><circle cx="112.9" cy="2230.3" r="30.6" fill="#000" opacity="0"/><circle cx="153.9" cy="2159.3" r="30.6" fill="#000" opacity="0"/><circle cx="286.6" cy="2194.8" r="30.6" fill="#fff" opacity="0"/><circle cx="266.1" cy="2230.3" r="30.6" fill="#fff" opacity="0.1"/><circle cx="225.1" cy="2230.3" r="30.6" fill="#000" opacity="0"/><circle cx="225.1" cy="2159.3" r="30.6" fill="#fff" opacity="0"/><circle cx="266.1" cy="2159.3" r="30.6" fill="#000" opacity="0.1"/><circle cx="397" cy="2194.8" r="30.6" fill="#fff" opacity="0.1"/><circle cx="376.5" cy="2230.3" r="30.6" fill="#fff" opacity="0.1"/><circle cx="335.5" cy="2230.3" r="30.6" fill="#000" opacity="0.1"/><circle cx="335.5" cy="2159.3" r="30.6" fill="#fff" opacity="0"/><circle cx="376.5" cy="2159.3" r="30.6" fill="#000" opacity="0.1"/><circle cx="509" cy="2194.8" r="30.6" fill="#fff" opacity="0.2"/><circle cx="488.5" cy="2230.3" r="30.6" fill="#fff" opacity="0.3"/><circle cx="447.5" cy="2230.3" r="30.6" fill="#000" opacity="0.2"/><circle cx="447.5" cy="2159.3" r="30.6" fill="#fff" opacity="0.1"/><circle cx="488.5" cy="2159.3" r="30.6" fill="#000" opacity="0.3"/><circle cx="621" cy="2194.8" r="30.6" fill="#fff" opacity="0.4"/><circle cx="600.5" cy="2230.3" r="30.6" fill="#fff" opacity="0.8"/><circle cx="559.5" cy="2230.3" r="30.6" fill="#000" opacity="0.5"/><circle cx="559.5" cy="2159.3" r="30.6" fill="#fff" opacity="0.2"/><circle cx="600.5" cy="2159.3" r="30.6" fill="#000" opacity="0.7"/><circle cx="777.5" cy="2098.8" r="24.2" fill="#fff" opacity="0.3"/><circle cx="762.3" cy="2125.1" r="24.2" fill="#fff" opacity="0.4"/><circle cx="716.7" cy="2098.8" r="24.2" fill="#000" opacity="0.3"/><circle cx="731.9" cy="2072.5" r="24.2" fill="#000" opacity="0.3"/><circle cx="762.3" cy="2072.5" r="24.2" fill="#000" opacity="0.2"/><circle cx="889.6" cy="2098.8" r="24.2" fill="#fff" opacity="0.2"/><circle cx="874.4" cy="2125.1" r="24.2" fill="#fff" opacity="0.2"/><circle cx="828.8" cy="2098.8" r="24.2" fill="#000" opacity="0.1"/><circle cx="844" cy="2072.5" r="24.2" fill="#000" opacity="0.1"/><circle cx="874.4" cy="2072.5" r="24.2" fill="#000" opacity="0.1"/><circle cx="722.6" cy="2194.8" r="24.2" fill="#fff" opacity="0.3"/><circle cx="707.4" cy="2221.1" r="24.2" fill="#fff" opacity="0.4"/><circle cx="661.8" cy="2194.8" r="24.2" fill="#000" opacity="0.3"/><circle cx="677" cy="2168.5" r="24.2" fill="#000" opacity="0.3"/><circle cx="707.4" cy="2168.5" r="24.2" fill="#000" opacity="0.2"/><circle cx="834.4" cy="2194.8" r="24.2" fill="#fff" opacity="0.2"/><circle cx="819.2" cy="2221.1" r="24.2" fill="#fff" opacity="0.2"/><circle cx="773.6" cy="2194.8" r="24.2" fill="#000" opacity="0.1"/><circle cx="788.8" cy="2168.5" r="24.2" fill="#000" opacity="0.1"/><circle cx="819.2" cy="2168.5" r="24.2" fill="#000" opacity="0.1"/></g></g>
<g clip-path="url(#clipB)" filter="url(#dblur)" fill="#b0b0b0" style="mix-blend-mode:multiply"><circle cx="230.4" cy="2098.8" r="12"/><circle cx="209.9" cy="2134.3" r="12"/><circle cx="168.9" cy="2134.3" r="12"/><circle cx="148.4" cy="2098.8" r="12"/><circle cx="168.9" cy="2063.3" r="12"/><circle cx="209.9" cy="2063.3" r="12"/><circle cx="342" cy="2098.8" r="12"/><circle cx="321.5" cy="2134.3" r="12"/><circle cx="280.5" cy="2134.3" r="12"/><circle cx="260" cy="2098.8" r="12"/><circle cx="280.5" cy="2063.3" r="12"/><circle cx="321.5" cy="2063.3" r="12"/><circle cx="454" cy="2098.8" r="12"/><circle cx="433.5" cy="2134.3" r="12"/><circle cx="392.5" cy="2134.3" r="12"/><circle cx="372" cy="2098.8" r="12"/><circle cx="392.5" cy="2063.3" r="12"/><circle cx="433.5" cy="2063.3" r="12"/><circle cx="566" cy="2098.8" r="12"/><circle cx="545.5" cy="2134.3" r="12"/><circle cx="504.5" cy="2134.3" r="12"/><circle cx="484" cy="2098.8" r="12"/><circle cx="504.5" cy="2063.3" r="12"/><circle cx="545.5" cy="2063.3" r="12"/><circle cx="678" cy="2098.8" r="12"/><circle cx="657.5" cy="2134.3" r="12"/><circle cx="616.5" cy="2134.3" r="12"/><circle cx="596" cy="2098.8" r="12"/><circle cx="616.5" cy="2063.3" r="12"/><circle cx="657.5" cy="2063.3" r="12"/><circle cx="174.4" cy="2194.8" r="12"/><circle cx="153.9" cy="2230.3" r="12"/><circle cx="112.9" cy="2230.3" r="12"/><circle cx="92.4" cy="2194.8" r="12"/><circle cx="112.9" cy="2159.3" r="12"/><circle cx="153.9" cy="2159.3" r="12"/><circle cx="286.6" cy="2194.8" r="12"/><circle cx="266.1" cy="2230.3" r="12"/><circle cx="225.1" cy="2230.3" r="12"/><circle cx="204.6" cy="2194.8" r="12"/><circle cx="225.1" cy="2159.3" r="12"/><circle cx="266.1" cy="2159.3" r="12"/><circle cx="397" cy="2194.8" r="12"/><circle cx="376.5" cy="2230.3" r="12"/><circle cx="335.5" cy="2230.3" r="12"/><circle cx="315" cy="2194.8" r="12"/><circle cx="335.5" cy="2159.3" r="12"/><circle cx="376.5" cy="2159.3" r="12"/><circle cx="509" cy="2194.8" r="12"/><circle cx="488.5" cy="2230.3" r="12"/><circle cx="447.5" cy="2230.3" r="12"/><circle cx="427" cy="2194.8" r="12"/><circle cx="447.5" cy="2159.3" r="12"/><circle cx="488.5" cy="2159.3" r="12"/><circle cx="621" cy="2194.8" r="12"/><circle cx="600.5" cy="2230.3" r="12"/><circle cx="559.5" cy="2230.3" r="12"/><circle cx="539" cy="2194.8" r="12"/><circle cx="559.5" cy="2159.3" r="12"/><circle cx="600.5" cy="2159.3" r="12"/><circle cx="777.5" cy="2098.8" r="12"/><circle cx="762.3" cy="2125.1" r="12"/><circle cx="731.9" cy="2125.1" r="12"/><circle cx="716.7" cy="2098.8" r="12"/><circle cx="731.9" cy="2072.5" r="12"/><circle cx="762.3" cy="2072.5" r="12"/><circle cx="889.6" cy="2098.8" r="12"/><circle cx="874.4" cy="2125.1" r="12"/><circle cx="844" cy="2125.1" r="12"/><circle cx="828.8" cy="2098.8" r="12"/><circle cx="844" cy="2072.5" r="12"/><circle cx="874.4" cy="2072.5" r="12"/><circle cx="722.6" cy="2194.8" r="12"/><circle cx="707.4" cy="2221.1" r="12"/><circle cx="677" cy="2221.1" r="12"/><circle cx="661.8" cy="2194.8" r="12"/><circle cx="677" cy="2168.5" r="12"/><circle cx="707.4" cy="2168.5" r="12"/><circle cx="834.4" cy="2194.8" r="12"/><circle cx="819.2" cy="2221.1" r="12"/><circle cx="788.8" cy="2221.1" r="12"/><circle cx="773.6" cy="2194.8" r="12"/><circle cx="788.8" cy="2168.5" r="12"/><circle cx="819.2" cy="2168.5" r="12"/></g>
<rect x="85" y="1826" width="236" height="62" fill="#fff" opacity="0.6" filter="url(#fadeblur)"/>
<rect x="85" y="2046" width="296" height="68" fill="#fff" opacity="0.6" filter="url(#fadeblur)"/>
<line x1="512.2" y1="2009.5" x2="613.3" y2="1829" stroke="#4a4a4a" stroke-width="2.6" stroke-dasharray="9,5" fill="none"/>
<line x1="622.3" y1="2009.5" x2="725.2" y2="1829" stroke="#4a4a4a" stroke-width="2.6" stroke-dasharray="9,5" fill="none"/>
<line x1="564.5" y1="1920.4" x2="674.7" y2="1920.4" stroke="#4a4a4a" stroke-width="2.6" stroke-dasharray="9,5" fill="none"/>
<line x1="512.2" y1="2009.5" x2="906.3" y2="2009.5" stroke="#4a4a4a" stroke-width="2.6" stroke-dasharray="9,5" fill="none"/>
<line x1="674.7" y1="1920.4" x2="997.5" y2="1828.6" stroke="#4a4a4a" stroke-width="2.6" stroke-dasharray="9,5" fill="none"/>
<line x1="502.8" y1="2243.9" x2="602.9" y2="2049.6" stroke="#4a4a4a" stroke-width="2.6" stroke-dasharray="9,5" fill="none"/>
<line x1="618.6" y1="2243.9" x2="719.4" y2="2051.6" stroke="#4a4a4a" stroke-width="2.6" stroke-dasharray="9,5" fill="none"/>
<text x="92" y="1867.8" font-family="Liberation Serif, serif" font-weight="bold" font-size="45" fill="#1010dd">A</text>
<text x="155.5" y="1867.8" font-family="Liberation Serif, serif" font-weight="bold" font-size="47" fill="#1010dd">spin-up</text>
<text x="88" y="2087.5" font-family="Liberation Serif, serif" font-weight="bold" font-size="46" fill="#a0109a">B</text>
<text x="141" y="2087.5" font-family="Liberation Serif, serif" font-weight="bold" font-size="46.9" fill="#a0109a">spin-down</text>
<text x="4.5" y="1878.6" font-family="Liberation Sans, sans-serif" font-weight="bold" font-size="43" fill="#000">D</text>
<path d="M74,2247 C78,2262 92,2268 120,2268 L320,2268 C342,2268 352,2276 353.6,2308 C355,2276 365,2268 388,2268 L580,2268 C605,2268 616,2262 620,2247" fill="none" stroke="#000" stroke-width="3.2"/>
<path d="M620,2247 C624,2256 634,2261 655,2261 L728,2261 C750,2261 757,2268 758,2294 C759,2268 766,2261 788,2261 L862,2261 C880,2261 887,2255 889,2245.5" fill="none" stroke="#000" stroke-width="3.2"/>
<text x="143" y="2337" font-family="Liberation Serif, serif" font-size="42.4" fill="#000">Topological region</text>
<text x="640.5" y="2342" font-family="Liberation Serif, serif" font-size="42.6" fill="#000">Trivial region</text>
<rect x="1158.7" y="2196.2" width="28" height="125.6" fill="url(#cbD)"/>
<text x="1189" y="2209.8" font-family="Liberation Serif, serif" font-size="45.7" fill="#000">max</text>
<text transform="translate(1192.5,2280.9) scale(1.12,1)" font-family="Liberation Serif, serif" font-size="40" fill="#000">0</text>
<text x="1190" y="2323.2" font-family="Liberation Serif, serif" font-size="41.5" fill="#000">min</text>
<g clip-path="url(#clipIA)">
<g filter="url(#divmapI)"><rect x="860" y="1800" width="414" height="240" fill="#808080"/>
<circle cx="1101" cy="1850" r="48" fill="#fff" opacity="0.7"/>
<circle cx="1130" cy="1830" r="30" fill="#fff" opacity="0.4"/>
<circle cx="1150" cy="1920" r="40" fill="#000" opacity="0.6"/>
<circle cx="1101" cy="1990" r="45" fill="#000" opacity="0.7"/>
<circle cx="1060" cy="1990" r="30" fill="#000" opacity="0.4"/>
<circle cx="1020" cy="1990" r="42" fill="#fff" opacity="0.4"/>
<circle cx="960" cy="2000" r="30" fill="#000" opacity="0.3"/>
<circle cx="985" cy="1860" r="40" fill="#000" opacity="0.3"/>
<circle cx="1010" cy="1835" r="30" fill="#000" opacity="0.3"/>
<circle cx="1205" cy="1835" r="25" fill="#000" opacity="0.6"/>
<circle cx="1170" cy="1960" r="40" fill="#000" opacity="0.5"/>
<circle cx="950" cy="1930" r="30" fill="#000" opacity="0.2"/>
<circle cx="930" cy="1990" r="30" fill="#000" opacity="0.3"/>
</g><g filter="url(#cblur)" fill="#b0b0b0" style="mix-blend-mode:multiply">
<circle cx="1022.2" cy="1858" r="23.5"/>
<circle cx="1101" cy="1858" r="23.5"/>
<circle cx="983.6" cy="1921.3" r="23.5"/>
<circle cx="1142.8" cy="1921.3" r="23.5"/>
<circle cx="1022.2" cy="1984.7" r="23.5"/>
<circle cx="1101" cy="1984.7" r="23.5"/>
</g>
<line x1="1039.2" y1="1840.9" x2="1028.2" y2="1835.4" stroke="#000" stroke-width="3.4"/><polygon points="1020.7,1831.6 1035.9,1832.5 1029.5,1836 1030.5,1843.3" fill="#000"/>
<line x1="988.2" y1="1845.6" x2="994.2" y2="1849.9" stroke="#000" stroke-width="2.6"/><polygon points="998.1,1852.7 989.4,1851.1 993.6,1849.4 993.8,1844.9" fill="#000"/>
<line x1="1093.4" y1="1840.9" x2="1081.9" y2="1833.7" stroke="#000" stroke-width="3.4"/><polygon points="1074.8,1829.2 1089.8,1831.6 1083.1,1834.4 1083.4,1841.7" fill="#000"/>
<line x1="1149" y1="1884.2" x2="1125.2" y2="1857" stroke="#000" stroke-width="3.4"/><polygon points="1116.5,1847.1 1137.8,1857.7 1126.7,1858.7 1124.3,1869.6" fill="#000"/>
<line x1="1093.4" y1="1884.2" x2="1085.9" y2="1874" stroke="#000" stroke-width="3.4"/><polygon points="1081,1867.2 1094.1,1875 1086.8,1875.1 1084.4,1882.1" fill="#000"/>
<line x1="983.6" y1="1884.2" x2="977.5" y2="1889.5" stroke="#000" stroke-width="3.4"/><polygon points="971.2,1895 977.8,1881.3 978.6,1888.6 985.7,1890.3" fill="#000"/>
<line x1="1039.2" y1="1884.2" x2="1035.6" y2="1886.4" stroke="#000" stroke-width="2.6"/><polygon points="1031.5,1888.8 1036.4,1881.5 1036.3,1886 1040.3,1888" fill="#000"/>
<line x1="1147.5" y1="1926" x2="1172.6" y2="1898.6" stroke="#000" stroke-width="3.4"/><polygon points="1181.5,1888.8 1173.3,1911.1 1171.1,1900.2 1160,1899" fill="#000"/>
<line x1="1093.4" y1="1926" x2="1105.6" y2="1915.1" stroke="#000" stroke-width="3.4"/><polygon points="1111.9,1909.6 1105.4,1923.3 1104.6,1916.1 1097.4,1914.3" fill="#000"/>
<line x1="983.6" y1="1924.4" x2="996.8" y2="1933.5" stroke="#000" stroke-width="3.4"/><polygon points="1003.7,1938.3 988.8,1935.3 995.6,1932.7 995.6,1925.4" fill="#000"/>
<line x1="1037.7" y1="1924.4" x2="1046.7" y2="1929" stroke="#000" stroke-width="2.6"/><polygon points="1051,1931.2 1042.1,1931 1046,1928.7 1045.6,1924.2" fill="#000"/>
<line x1="929.5" y1="1969.2" x2="942.9" y2="1954.7" stroke="#000" stroke-width="3.4"/><polygon points="948.6,1948.5 943.5,1962.9 942,1955.7 934.7,1954.7" fill="#000"/>
<line x1="1037.7" y1="1969.2" x2="1063.3" y2="1955" stroke="#000" stroke-width="3.4"/><polygon points="1074.8,1948.5 1060,1967.1 1061.4,1956 1051.2,1951.4" fill="#000"/>
<line x1="1093.4" y1="1969.2" x2="1126.3" y2="1953.3" stroke="#000" stroke-width="3.4"/><polygon points="1138.2,1947.6 1122.3,1965.3 1124.3,1954.3 1114.5,1949.1" fill="#000"/>
<line x1="983.6" y1="1967.7" x2="992.4" y2="1974.4" stroke="#000" stroke-width="3.4"/><polygon points="999,1979.4 984.3,1975.8 991.2,1973.5 991.5,1966.2" fill="#000"/>
<line x1="1037.7" y1="2009.4" x2="1067.6" y2="1985.3" stroke="#000" stroke-width="3.4"/><polygon points="1077.9,1977 1066.4,1997.8 1065.9,1986.7 1055.1,1983.8" fill="#000"/>
<line x1="1093.4" y1="2009.4" x2="1118.2" y2="1999.7" stroke="#000" stroke-width="3.4"/><polygon points="1130.5,1994.9 1113.3,2011.3 1116.1,2000.5 1106.7,1994.6" fill="#000"/>
<line x1="929.5" y1="2009.4" x2="917.9" y2="2001.7" stroke="#000" stroke-width="3.4"/><polygon points="910.9,1997.1 925.9,1999.8 919.1,2002.5 919.2,2009.8" fill="#000"/>
<line x1="983.6" y1="2009.4" x2="976.2" y2="1999.2" stroke="#000" stroke-width="3.4"/><polygon points="971.2,1992.4 984.3,2000.2 977,2000.4 974.6,2007.3" fill="#000"/>
</g>
<g clip-path="url(#clipIB)">
<g filter="url(#divmapI)"><rect x="860" y="2020" width="414" height="240" fill="#808080"/>
<circle cx="1096" cy="2070" r="50" fill="#000" opacity="0.7"/>
<circle cx="1140" cy="2150" r="42" fill="#fff" opacity="0.6"/>
<circle cx="1096" cy="2215" r="48" fill="#fff" opacity="0.7"/>
<circle cx="1016" cy="2215" r="45" fill="#000" opacity="0.5"/>
<circle cx="960" cy="2225" r="30" fill="#000" opacity="0.4"/>
<circle cx="1010" cy="2070" r="40" fill="#fff" opacity="0.3"/>
<circle cx="1200" cy="2060" r="25" fill="#fff" opacity="0.4"/>
<circle cx="1170" cy="2190" r="35" fill="#fff" opacity="0.5"/>
<circle cx="940" cy="2150" r="28" fill="#fff" opacity="0.3"/>
<circle cx="960" cy="2100" r="30" fill="#fff" opacity="0.3"/>
<circle cx="905" cy="2230" r="25" fill="#fff" opacity="0.3"/>
</g><g filter="url(#cblur)" fill="#b0b0b0" style="mix-blend-mode:multiply">
<circle cx="1016" cy="2074.8" r="23.5"/>
<circle cx="1096.4" cy="2074.8" r="23.5"/>
<circle cx="972.8" cy="2142.9" r="23.5"/>
<circle cx="1142.8" cy="2142.9" r="23.5"/>
<circle cx="1016" cy="2212.4" r="23.5"/>
<circle cx="1096.4" cy="2212.4" r="23.5"/>
</g>
<line x1="1034.6" y1="2053.2" x2="1050.2" y2="2060.5" stroke="#000" stroke-width="3.4"/><polygon points="1057.8,2064 1042.6,2063.5 1048.9,2059.9 1047.6,2052.7" fill="#000"/>
<line x1="1088.7" y1="2053.2" x2="1097.2" y2="2066.7" stroke="#000" stroke-width="3.4"/><polygon points="1104.2,2077.9 1084.9,2064 1096,2064.9 1100.2,2054.5" fill="#000"/>
<line x1="1144.4" y1="2053.2" x2="1125.4" y2="2074.3" stroke="#000" stroke-width="3.4"/><polygon points="1116.5,2084.1 1124.6,2061.7 1126.9,2072.7 1138,2073.8" fill="#000"/>
<line x1="1198.5" y1="2053.2" x2="1182.7" y2="2061.6" stroke="#000" stroke-width="3.4"/><polygon points="1175.3,2065.6 1184.8,2053.7 1183.9,2060.9 1190.5,2064.3" fill="#000"/>
<line x1="982" y1="2094.9" x2="989.7" y2="2088.1" stroke="#000" stroke-width="3.4"/><polygon points="996,2082.6 989.5,2096.4 988.6,2089.1 981.5,2087.4" fill="#000"/>
<line x1="1088.7" y1="2093.4" x2="1100.8" y2="2109.8" stroke="#000" stroke-width="3.4"/><polygon points="1105.7,2116.6 1092.6,2108.8 1099.9,2108.7 1102.3,2101.7" fill="#000"/>
<line x1="1142.8" y1="2093.4" x2="1164.9" y2="2117.6" stroke="#000" stroke-width="3.4"/><polygon points="1173.8,2127.4 1152.3,2117.2 1163.4,2116 1165.6,2105.1" fill="#000"/>
<line x1="1196.9" y1="2093.4" x2="1184.2" y2="2100.2" stroke="#000" stroke-width="3.4"/><polygon points="1176.8,2104.2 1186.3,2092.3 1185.5,2099.6 1192,2102.9" fill="#000"/>
<line x1="983.6" y1="2133.6" x2="971.8" y2="2124.7" stroke="#000" stroke-width="3.4"/><polygon points="965,2119.7 979.8,2123.3 972.9,2125.6 972.6,2132.9" fill="#000"/>
<line x1="1037.7" y1="2133.6" x2="1028" y2="2139" stroke="#000" stroke-width="2.6"/><polygon points="1023.8,2141.3 1028.9,2134.1 1028.7,2138.6 1032.6,2140.8" fill="#000"/>
<line x1="1091.8" y1="2133.6" x2="1073.4" y2="2149.7" stroke="#000" stroke-width="3.4"/><polygon points="1067.1,2155.2 1073.7,2141.5 1074.5,2148.8 1081.6,2150.5" fill="#000"/>
<line x1="1144.4" y1="2133.6" x2="1119.3" y2="2161" stroke="#000" stroke-width="3.4"/><polygon points="1110.4,2170.7 1118.6,2148.4 1120.8,2159.3 1131.9,2160.6" fill="#000"/>
<line x1="983.6" y1="2173.8" x2="970.9" y2="2166.9" stroke="#000" stroke-width="3.4"/><polygon points="963.5,2163 978.7,2164.3 972.1,2167.6 973,2174.9" fill="#000"/>
<line x1="1037.7" y1="2173.8" x2="1008" y2="2187" stroke="#000" stroke-width="3.4"/><polygon points="996,2192.3 1012.4,2175.2 1010,2186.1 1019.7,2191.6" fill="#000"/>
<line x1="1091.8" y1="2173.8" x2="1058.5" y2="2192.1" stroke="#000" stroke-width="3.4"/><polygon points="1047,2198.5 1061.9,2180 1060.5,2191.1 1070.6,2195.8" fill="#000"/>
<line x1="1144.4" y1="2173.8" x2="1117.3" y2="2197" stroke="#000" stroke-width="3.4"/><polygon points="1107.3,2205.6 1118.1,2184.5 1119,2195.6 1129.8,2198.1" fill="#000"/>
<line x1="929.5" y1="2212.4" x2="943.8" y2="2220.6" stroke="#000" stroke-width="3.4"/><polygon points="951.1,2224.8 936,2223.1 942.6,2219.9 941.9,2212.6" fill="#000"/>
<line x1="983.6" y1="2212.4" x2="968.8" y2="2230.7" stroke="#000" stroke-width="3.4"/><polygon points="963.5,2237.2 967.7,2222.5 969.7,2229.6 977,2230.1" fill="#000"/>
<line x1="1037.7" y1="2212.4" x2="1010.2" y2="2230.1" stroke="#000" stroke-width="3.4"/><polygon points="999,2237.2 1012.7,2217.7 1012,2228.9 1022.4,2232.9" fill="#000"/>
<line x1="1091.8" y1="2212.4" x2="1065" y2="2228.3" stroke="#000" stroke-width="3.4"/><polygon points="1057.8,2232.5 1066.8,2220.2 1066.2,2227.6 1072.9,2230.6" fill="#000"/>
</g>
</svg></body></html>
